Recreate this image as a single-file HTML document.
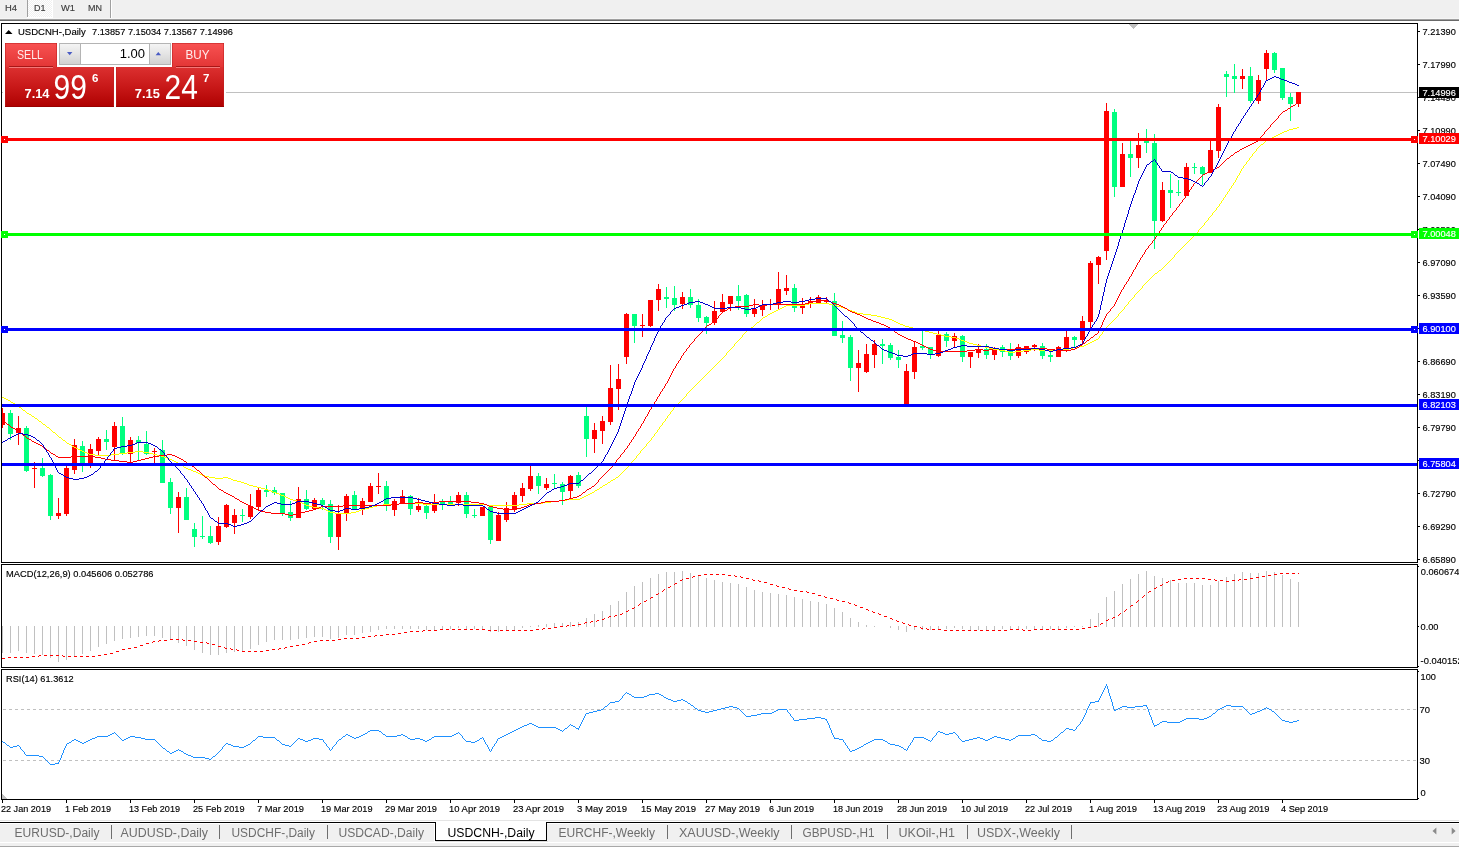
<!DOCTYPE html>
<html lang="en"><head><meta charset="utf-8"><title>USDCNH-,Daily</title>
<style>html,body{margin:0;padding:0;background:#fff;overflow:hidden}body{width:1459px;height:848px;position:relative}svg{position:absolute;left:0;top:0;display:block}text{font-family:"Liberation Sans",sans-serif;white-space:pre}.c{shape-rendering:crispEdges}</style></head><body>
<svg width="1459" height="848" viewBox="0 0 1459 848">
<defs><linearGradient id="gs" x1="0" y1="0" x2="0" y2="1"><stop offset="0" stop-color="#f85252"/><stop offset="1" stop-color="#e23434"/></linearGradient><linearGradient id="gp" x1="0" y1="0" x2="0" y2="1"><stop offset="0" stop-color="#dc3030"/><stop offset="0.5" stop-color="#c81818"/><stop offset="1" stop-color="#ae0000"/></linearGradient><linearGradient id="gb" x1="0" y1="0" x2="0" y2="1"><stop offset="0" stop-color="#f4f4f4"/><stop offset="0.5" stop-color="#e4e4e4"/><stop offset="1" stop-color="#d2d2d2"/></linearGradient><pattern id="chk" width="2" height="2" patternUnits="userSpaceOnUse"><rect width="2" height="2" fill="#f0f0f0"/><rect width="1" height="1" fill="#fff"/><rect x="1" y="1" width="1" height="1" fill="#fff"/></pattern></defs>
<g class="c">
<rect x="0" y="0" width="1459" height="848" fill="#fff"/>
<rect x="0" y="0" width="1459" height="18" fill="#f0f0f0"/>
<rect x="0" y="18" width="1459" height="1" fill="#f6f6f6"/>
<rect x="0" y="19" width="1459" height="1" fill="#a0a0a0"/>
<rect x="0" y="20" width="1459" height="1" fill="#696969"/>
<rect x="28" y="0" width="24" height="17" fill="url(#chk)"/>
<rect x="27" y="0" width="1" height="17" fill="#a0a0a0"/>
<rect x="52" y="0" width="1" height="18" fill="#fff"/>
<rect x="27" y="17" width="26" height="1" fill="#fff"/>
<rect x="110" y="0" width="1" height="18" fill="#a0a0a0"/>
<rect x="111" y="0" width="1" height="18" fill="#ffffff"/>
<rect x="1" y="23" width="1417" height="1" fill="#000"/>
<rect x="1" y="23" width="1" height="540" fill="#000"/>
<rect x="1" y="562" width="1417" height="1" fill="#000"/>
<rect x="1417" y="23" width="1" height="540" fill="#000"/>
<rect x="1" y="564" width="1417" height="1" fill="#000"/>
<rect x="1" y="564" width="1" height="104" fill="#000"/>
<rect x="1" y="667" width="1417" height="1" fill="#000"/>
<rect x="1417" y="564" width="1" height="104" fill="#000"/>
<rect x="1" y="669" width="1417" height="1" fill="#000"/>
<rect x="1" y="669" width="1" height="131" fill="#000"/>
<rect x="1" y="799" width="1417" height="1" fill="#000"/>
<rect x="1417" y="669" width="1" height="131" fill="#000"/>
<rect x="1418" y="31" width="2" height="1" fill="#000"/>
<rect x="1418" y="64" width="2" height="1" fill="#000"/>
<rect x="1418" y="97" width="2" height="1" fill="#000"/>
<rect x="1418" y="130" width="2" height="1" fill="#000"/>
<rect x="1418" y="163" width="2" height="1" fill="#000"/>
<rect x="1418" y="196" width="2" height="1" fill="#000"/>
<rect x="1418" y="229" width="2" height="1" fill="#000"/>
<rect x="1418" y="262" width="2" height="1" fill="#000"/>
<rect x="1418" y="295" width="2" height="1" fill="#000"/>
<rect x="1418" y="328" width="2" height="1" fill="#000"/>
<rect x="1418" y="361" width="2" height="1" fill="#000"/>
<rect x="1418" y="394" width="2" height="1" fill="#000"/>
<rect x="1418" y="427" width="2" height="1" fill="#000"/>
<rect x="1418" y="460" width="2" height="1" fill="#000"/>
<rect x="1418" y="493" width="2" height="1" fill="#000"/>
<rect x="1418" y="526" width="2" height="1" fill="#000"/>
<rect x="1418" y="559" width="2" height="1" fill="#000"/>
<rect x="1418" y="566" width="1" height="1" fill="#000"/>
<rect x="1418" y="626" width="1" height="1" fill="#000"/>
<rect x="1418" y="666" width="1" height="1" fill="#000"/>
<rect x="1418" y="671" width="1" height="1" fill="#000"/>
<rect x="1418" y="798" width="1" height="1" fill="#000"/>
<rect x="2" y="800" width="1" height="3" fill="#000"/>
<rect x="66" y="800" width="1" height="3" fill="#000"/>
<rect x="130" y="800" width="1" height="3" fill="#000"/>
<rect x="194" y="800" width="1" height="3" fill="#000"/>
<rect x="258" y="800" width="1" height="3" fill="#000"/>
<rect x="322" y="800" width="1" height="3" fill="#000"/>
<rect x="386" y="800" width="1" height="3" fill="#000"/>
<rect x="450" y="800" width="1" height="3" fill="#000"/>
<rect x="514" y="800" width="1" height="3" fill="#000"/>
<rect x="578" y="800" width="1" height="3" fill="#000"/>
<rect x="642" y="800" width="1" height="3" fill="#000"/>
<rect x="706" y="800" width="1" height="3" fill="#000"/>
<rect x="770" y="800" width="1" height="3" fill="#000"/>
<rect x="834" y="800" width="1" height="3" fill="#000"/>
<rect x="898" y="800" width="1" height="3" fill="#000"/>
<rect x="962" y="800" width="1" height="3" fill="#000"/>
<rect x="1026" y="800" width="1" height="3" fill="#000"/>
<rect x="1090" y="800" width="1" height="3" fill="#000"/>
<rect x="1154" y="800" width="1" height="3" fill="#000"/>
<rect x="1218" y="800" width="1" height="3" fill="#000"/>
<rect x="1282" y="800" width="1" height="3" fill="#000"/>
<polygon points="1128,24 1138,24 1133,29" fill="#c0c0c0"/>
<polygon points="2,794 2,799 7,799" fill="#c0c0c0"/>
<rect x="2" y="92" width="1415" height="1" fill="#c0c0c0"/>
<rect x="2" y="408" width="1" height="20" fill="#ff0000"/>
<rect x="2" y="413" width="3" height="12" fill="#ff0000"/>
<rect x="10" y="410" width="1" height="30" fill="#00ff7f"/>
<rect x="8" y="413" width="5" height="21" fill="#00ff7f"/>
<rect x="18" y="416" width="1" height="29" fill="#ff0000"/>
<rect x="16" y="428" width="5" height="5" fill="#ff0000"/>
<rect x="26" y="426" width="1" height="46" fill="#00ff7f"/>
<rect x="24" y="428" width="5" height="43" fill="#00ff7f"/>
<rect x="34" y="462" width="1" height="26" fill="#ff0000"/>
<rect x="32" y="468" width="5" height="1" fill="#ff0000"/>
<rect x="42" y="458" width="1" height="19" fill="#00ff7f"/>
<rect x="40" y="468" width="5" height="8" fill="#00ff7f"/>
<rect x="50" y="474" width="1" height="46" fill="#00ff7f"/>
<rect x="48" y="475" width="5" height="41" fill="#00ff7f"/>
<rect x="58" y="498" width="1" height="21" fill="#ff0000"/>
<rect x="56" y="513" width="5" height="3" fill="#ff0000"/>
<rect x="66" y="466" width="1" height="50" fill="#ff0000"/>
<rect x="64" y="468" width="5" height="46" fill="#ff0000"/>
<rect x="74" y="439" width="1" height="35" fill="#ff0000"/>
<rect x="72" y="445" width="5" height="25" fill="#ff0000"/>
<rect x="82" y="441" width="1" height="31" fill="#00ff7f"/>
<rect x="80" y="446" width="5" height="19" fill="#00ff7f"/>
<rect x="90" y="444" width="1" height="24" fill="#ff0000"/>
<rect x="88" y="449" width="5" height="16" fill="#ff0000"/>
<rect x="98" y="437" width="1" height="18" fill="#ff0000"/>
<rect x="96" y="439" width="5" height="12" fill="#ff0000"/>
<rect x="106" y="430" width="1" height="20" fill="#00ff7f"/>
<rect x="104" y="439" width="5" height="3" fill="#00ff7f"/>
<rect x="114" y="422" width="1" height="38" fill="#ff0000"/>
<rect x="112" y="426" width="5" height="21" fill="#ff0000"/>
<rect x="122" y="417" width="1" height="38" fill="#00ff7f"/>
<rect x="120" y="426" width="5" height="27" fill="#00ff7f"/>
<rect x="130" y="437" width="1" height="25" fill="#ff0000"/>
<rect x="128" y="440" width="5" height="14" fill="#ff0000"/>
<rect x="138" y="436" width="1" height="24" fill="#00ff7f"/>
<rect x="136" y="440" width="5" height="3" fill="#00ff7f"/>
<rect x="146" y="431" width="1" height="24" fill="#00ff7f"/>
<rect x="144" y="444" width="5" height="10" fill="#00ff7f"/>
<rect x="154" y="448" width="1" height="15" fill="#ff0000"/>
<rect x="152" y="451" width="5" height="1" fill="#ff0000"/>
<rect x="162" y="440" width="1" height="43" fill="#00ff7f"/>
<rect x="160" y="450" width="5" height="33" fill="#00ff7f"/>
<rect x="170" y="478" width="1" height="36" fill="#00ff7f"/>
<rect x="168" y="482" width="5" height="26" fill="#00ff7f"/>
<rect x="178" y="492" width="1" height="41" fill="#ff0000"/>
<rect x="176" y="497" width="5" height="11" fill="#ff0000"/>
<rect x="186" y="488" width="1" height="32" fill="#00ff7f"/>
<rect x="184" y="497" width="5" height="23" fill="#00ff7f"/>
<rect x="194" y="523" width="1" height="24" fill="#00ff7f"/>
<rect x="192" y="529" width="5" height="8" fill="#00ff7f"/>
<rect x="202" y="516" width="1" height="23" fill="#00ff7f"/>
<rect x="200" y="536" width="5" height="1" fill="#00ff7f"/>
<rect x="210" y="526" width="1" height="18" fill="#00ff7f"/>
<rect x="208" y="536" width="5" height="7" fill="#00ff7f"/>
<rect x="218" y="517" width="1" height="28" fill="#ff0000"/>
<rect x="216" y="526" width="5" height="16" fill="#ff0000"/>
<rect x="226" y="504" width="1" height="24" fill="#ff0000"/>
<rect x="224" y="505" width="5" height="22" fill="#ff0000"/>
<rect x="234" y="509" width="1" height="25" fill="#ff0000"/>
<rect x="232" y="515" width="5" height="8" fill="#ff0000"/>
<rect x="242" y="509" width="1" height="13" fill="#00ff7f"/>
<rect x="240" y="515" width="5" height="1" fill="#00ff7f"/>
<rect x="250" y="494" width="1" height="25" fill="#ff0000"/>
<rect x="248" y="506" width="5" height="11" fill="#ff0000"/>
<rect x="258" y="488" width="1" height="22" fill="#ff0000"/>
<rect x="256" y="490" width="5" height="17" fill="#ff0000"/>
<rect x="266" y="485" width="1" height="12" fill="#00ff7f"/>
<rect x="264" y="490" width="5" height="2" fill="#00ff7f"/>
<rect x="274" y="487" width="1" height="8" fill="#00ff7f"/>
<rect x="272" y="490" width="5" height="3" fill="#00ff7f"/>
<rect x="282" y="493" width="1" height="23" fill="#00ff7f"/>
<rect x="280" y="493" width="5" height="21" fill="#00ff7f"/>
<rect x="290" y="501" width="1" height="20" fill="#00ff7f"/>
<rect x="288" y="512" width="5" height="6" fill="#00ff7f"/>
<rect x="298" y="487" width="1" height="31" fill="#ff0000"/>
<rect x="296" y="499" width="5" height="19" fill="#ff0000"/>
<rect x="306" y="490" width="1" height="20" fill="#00ff7f"/>
<rect x="304" y="499" width="5" height="10" fill="#00ff7f"/>
<rect x="314" y="498" width="1" height="12" fill="#ff0000"/>
<rect x="312" y="500" width="5" height="9" fill="#ff0000"/>
<rect x="322" y="498" width="1" height="12" fill="#00ff7f"/>
<rect x="320" y="500" width="5" height="5" fill="#00ff7f"/>
<rect x="330" y="500" width="1" height="43" fill="#00ff7f"/>
<rect x="328" y="504" width="5" height="33" fill="#00ff7f"/>
<rect x="338" y="505" width="1" height="45" fill="#ff0000"/>
<rect x="336" y="514" width="5" height="23" fill="#ff0000"/>
<rect x="346" y="494" width="1" height="27" fill="#ff0000"/>
<rect x="344" y="496" width="5" height="18" fill="#ff0000"/>
<rect x="354" y="491" width="1" height="19" fill="#00ff7f"/>
<rect x="352" y="495" width="5" height="15" fill="#00ff7f"/>
<rect x="362" y="498" width="1" height="17" fill="#ff0000"/>
<rect x="360" y="501" width="5" height="8" fill="#ff0000"/>
<rect x="370" y="483" width="1" height="19" fill="#ff0000"/>
<rect x="368" y="486" width="5" height="16" fill="#ff0000"/>
<rect x="378" y="473" width="1" height="21" fill="#ff0000"/>
<rect x="376" y="486" width="5" height="1" fill="#ff0000"/>
<rect x="386" y="481" width="1" height="30" fill="#00ff7f"/>
<rect x="384" y="486" width="5" height="19" fill="#00ff7f"/>
<rect x="394" y="499" width="1" height="17" fill="#ff0000"/>
<rect x="392" y="501" width="5" height="9" fill="#ff0000"/>
<rect x="402" y="490" width="1" height="13" fill="#ff0000"/>
<rect x="400" y="496" width="5" height="7" fill="#ff0000"/>
<rect x="410" y="495" width="1" height="20" fill="#00ff7f"/>
<rect x="408" y="496" width="5" height="13" fill="#00ff7f"/>
<rect x="418" y="498" width="1" height="14" fill="#ff0000"/>
<rect x="416" y="506" width="5" height="4" fill="#ff0000"/>
<rect x="426" y="505" width="1" height="14" fill="#00ff7f"/>
<rect x="424" y="506" width="5" height="7" fill="#00ff7f"/>
<rect x="434" y="494" width="1" height="19" fill="#ff0000"/>
<rect x="432" y="502" width="5" height="9" fill="#ff0000"/>
<rect x="442" y="499" width="1" height="11" fill="#00ff7f"/>
<rect x="440" y="502" width="5" height="3" fill="#00ff7f"/>
<rect x="450" y="496" width="1" height="9" fill="#00ff7f"/>
<rect x="448" y="502" width="5" height="2" fill="#00ff7f"/>
<rect x="458" y="492" width="1" height="14" fill="#ff0000"/>
<rect x="456" y="495" width="5" height="8" fill="#ff0000"/>
<rect x="466" y="492" width="1" height="26" fill="#00ff7f"/>
<rect x="464" y="495" width="5" height="19" fill="#00ff7f"/>
<rect x="474" y="509" width="1" height="9" fill="#00ff7f"/>
<rect x="472" y="515" width="5" height="1" fill="#00ff7f"/>
<rect x="482" y="507" width="1" height="9" fill="#ff0000"/>
<rect x="480" y="507" width="5" height="9" fill="#ff0000"/>
<rect x="490" y="507" width="1" height="37" fill="#00ff7f"/>
<rect x="488" y="507" width="5" height="33" fill="#00ff7f"/>
<rect x="498" y="512" width="1" height="29" fill="#ff0000"/>
<rect x="496" y="515" width="5" height="26" fill="#ff0000"/>
<rect x="506" y="502" width="1" height="20" fill="#ff0000"/>
<rect x="504" y="508" width="5" height="12" fill="#ff0000"/>
<rect x="514" y="492" width="1" height="20" fill="#ff0000"/>
<rect x="512" y="495" width="5" height="14" fill="#ff0000"/>
<rect x="522" y="483" width="1" height="19" fill="#ff0000"/>
<rect x="520" y="488" width="5" height="8" fill="#ff0000"/>
<rect x="530" y="466" width="1" height="25" fill="#ff0000"/>
<rect x="528" y="476" width="5" height="13" fill="#ff0000"/>
<rect x="538" y="473" width="1" height="21" fill="#00ff7f"/>
<rect x="536" y="476" width="5" height="10" fill="#00ff7f"/>
<rect x="546" y="478" width="1" height="12" fill="#ff0000"/>
<rect x="544" y="484" width="5" height="4" fill="#ff0000"/>
<rect x="554" y="474" width="1" height="14" fill="#00ff7f"/>
<rect x="552" y="483" width="5" height="1" fill="#00ff7f"/>
<rect x="562" y="482" width="1" height="23" fill="#00ff7f"/>
<rect x="560" y="484" width="5" height="8" fill="#00ff7f"/>
<rect x="570" y="475" width="1" height="23" fill="#ff0000"/>
<rect x="568" y="476" width="5" height="15" fill="#ff0000"/>
<rect x="578" y="472" width="1" height="16" fill="#00ff7f"/>
<rect x="576" y="475" width="5" height="11" fill="#00ff7f"/>
<rect x="586" y="407" width="1" height="50" fill="#00ff7f"/>
<rect x="584" y="416" width="5" height="23" fill="#00ff7f"/>
<rect x="594" y="423" width="1" height="30" fill="#ff0000"/>
<rect x="592" y="430" width="5" height="9" fill="#ff0000"/>
<rect x="602" y="416" width="1" height="28" fill="#ff0000"/>
<rect x="600" y="421" width="5" height="10" fill="#ff0000"/>
<rect x="610" y="365" width="1" height="60" fill="#ff0000"/>
<rect x="608" y="388" width="5" height="34" fill="#ff0000"/>
<rect x="618" y="364" width="1" height="46" fill="#ff0000"/>
<rect x="616" y="379" width="5" height="10" fill="#ff0000"/>
<rect x="626" y="313" width="1" height="51" fill="#ff0000"/>
<rect x="624" y="314" width="5" height="43" fill="#ff0000"/>
<rect x="634" y="314" width="1" height="29" fill="#00ff7f"/>
<rect x="632" y="314" width="5" height="12" fill="#00ff7f"/>
<rect x="642" y="314" width="1" height="23" fill="#ff0000"/>
<rect x="640" y="325" width="5" height="1" fill="#ff0000"/>
<rect x="650" y="300" width="1" height="27" fill="#ff0000"/>
<rect x="648" y="300" width="5" height="26" fill="#ff0000"/>
<rect x="658" y="284" width="1" height="27" fill="#ff0000"/>
<rect x="656" y="289" width="5" height="11" fill="#ff0000"/>
<rect x="666" y="287" width="1" height="21" fill="#00ff7f"/>
<rect x="664" y="297" width="5" height="2" fill="#00ff7f"/>
<rect x="674" y="286" width="1" height="25" fill="#00ff7f"/>
<rect x="672" y="298" width="5" height="7" fill="#00ff7f"/>
<rect x="682" y="292" width="1" height="17" fill="#ff0000"/>
<rect x="680" y="297" width="5" height="7" fill="#ff0000"/>
<rect x="690" y="289" width="1" height="19" fill="#00ff7f"/>
<rect x="688" y="297" width="5" height="8" fill="#00ff7f"/>
<rect x="698" y="299" width="1" height="23" fill="#00ff7f"/>
<rect x="696" y="305" width="5" height="13" fill="#00ff7f"/>
<rect x="706" y="316" width="1" height="18" fill="#00ff7f"/>
<rect x="704" y="317" width="5" height="6" fill="#00ff7f"/>
<rect x="714" y="301" width="1" height="24" fill="#ff0000"/>
<rect x="712" y="311" width="5" height="12" fill="#ff0000"/>
<rect x="722" y="294" width="1" height="18" fill="#ff0000"/>
<rect x="720" y="302" width="5" height="10" fill="#ff0000"/>
<rect x="730" y="296" width="1" height="15" fill="#ff0000"/>
<rect x="728" y="296" width="5" height="8" fill="#ff0000"/>
<rect x="738" y="285" width="1" height="25" fill="#00ff7f"/>
<rect x="736" y="296" width="5" height="5" fill="#00ff7f"/>
<rect x="746" y="294" width="1" height="23" fill="#00ff7f"/>
<rect x="744" y="295" width="5" height="19" fill="#00ff7f"/>
<rect x="754" y="299" width="1" height="18" fill="#ff0000"/>
<rect x="752" y="309" width="5" height="5" fill="#ff0000"/>
<rect x="762" y="300" width="1" height="16" fill="#ff0000"/>
<rect x="760" y="305" width="5" height="5" fill="#ff0000"/>
<rect x="770" y="299" width="1" height="11" fill="#ff0000"/>
<rect x="768" y="304" width="5" height="1" fill="#ff0000"/>
<rect x="778" y="272" width="1" height="38" fill="#ff0000"/>
<rect x="776" y="289" width="5" height="15" fill="#ff0000"/>
<rect x="786" y="275" width="1" height="20" fill="#ff0000"/>
<rect x="784" y="288" width="5" height="3" fill="#ff0000"/>
<rect x="794" y="284" width="1" height="28" fill="#00ff7f"/>
<rect x="792" y="288" width="5" height="20" fill="#00ff7f"/>
<rect x="802" y="298" width="1" height="16" fill="#ff0000"/>
<rect x="800" y="305" width="5" height="3" fill="#ff0000"/>
<rect x="810" y="297" width="1" height="11" fill="#ff0000"/>
<rect x="808" y="301" width="5" height="3" fill="#ff0000"/>
<rect x="818" y="295" width="1" height="8" fill="#ff0000"/>
<rect x="816" y="297" width="5" height="6" fill="#ff0000"/>
<rect x="826" y="297" width="1" height="6" fill="#ff0000"/>
<rect x="824" y="301" width="5" height="1" fill="#ff0000"/>
<rect x="834" y="293" width="1" height="43" fill="#00ff7f"/>
<rect x="832" y="301" width="5" height="35" fill="#00ff7f"/>
<rect x="842" y="321" width="1" height="22" fill="#00ff7f"/>
<rect x="840" y="335" width="5" height="3" fill="#00ff7f"/>
<rect x="850" y="335" width="1" height="46" fill="#00ff7f"/>
<rect x="848" y="337" width="5" height="31" fill="#00ff7f"/>
<rect x="858" y="350" width="1" height="42" fill="#ff0000"/>
<rect x="856" y="363" width="5" height="5" fill="#ff0000"/>
<rect x="866" y="344" width="1" height="29" fill="#ff0000"/>
<rect x="864" y="354" width="5" height="18" fill="#ff0000"/>
<rect x="874" y="340" width="1" height="28" fill="#ff0000"/>
<rect x="872" y="344" width="5" height="11" fill="#ff0000"/>
<rect x="882" y="339" width="1" height="25" fill="#00ff7f"/>
<rect x="880" y="344" width="5" height="2" fill="#00ff7f"/>
<rect x="890" y="343" width="1" height="17" fill="#00ff7f"/>
<rect x="888" y="345" width="5" height="13" fill="#00ff7f"/>
<rect x="898" y="350" width="1" height="18" fill="#00ff7f"/>
<rect x="896" y="357" width="5" height="3" fill="#00ff7f"/>
<rect x="906" y="364" width="1" height="41" fill="#ff0000"/>
<rect x="904" y="371" width="5" height="33" fill="#ff0000"/>
<rect x="914" y="341" width="1" height="38" fill="#ff0000"/>
<rect x="912" y="347" width="5" height="25" fill="#ff0000"/>
<rect x="922" y="331" width="1" height="19" fill="#00ff7f"/>
<rect x="920" y="346" width="5" height="2" fill="#00ff7f"/>
<rect x="930" y="347" width="1" height="12" fill="#00ff7f"/>
<rect x="928" y="347" width="5" height="8" fill="#00ff7f"/>
<rect x="938" y="331" width="1" height="26" fill="#ff0000"/>
<rect x="936" y="335" width="5" height="21" fill="#ff0000"/>
<rect x="946" y="332" width="1" height="15" fill="#00ff7f"/>
<rect x="944" y="334" width="5" height="7" fill="#00ff7f"/>
<rect x="954" y="333" width="1" height="14" fill="#ff0000"/>
<rect x="952" y="336" width="5" height="5" fill="#ff0000"/>
<rect x="962" y="335" width="1" height="27" fill="#00ff7f"/>
<rect x="960" y="336" width="5" height="21" fill="#00ff7f"/>
<rect x="970" y="352" width="1" height="16" fill="#ff0000"/>
<rect x="968" y="352" width="5" height="5" fill="#ff0000"/>
<rect x="978" y="344" width="1" height="14" fill="#ff0000"/>
<rect x="976" y="349" width="5" height="4" fill="#ff0000"/>
<rect x="986" y="344" width="1" height="15" fill="#00ff7f"/>
<rect x="984" y="349" width="5" height="6" fill="#00ff7f"/>
<rect x="994" y="347" width="1" height="13" fill="#ff0000"/>
<rect x="992" y="348" width="5" height="7" fill="#ff0000"/>
<rect x="1002" y="345" width="1" height="12" fill="#00ff7f"/>
<rect x="1000" y="347" width="5" height="5" fill="#00ff7f"/>
<rect x="1010" y="343" width="1" height="17" fill="#00ff7f"/>
<rect x="1008" y="351" width="5" height="5" fill="#00ff7f"/>
<rect x="1018" y="344" width="1" height="14" fill="#ff0000"/>
<rect x="1016" y="347" width="5" height="9" fill="#ff0000"/>
<rect x="1026" y="346" width="1" height="8" fill="#ff0000"/>
<rect x="1024" y="346" width="5" height="6" fill="#ff0000"/>
<rect x="1034" y="344" width="1" height="7" fill="#ff0000"/>
<rect x="1032" y="345" width="5" height="2" fill="#ff0000"/>
<rect x="1042" y="343" width="1" height="16" fill="#00ff7f"/>
<rect x="1040" y="346" width="5" height="10" fill="#00ff7f"/>
<rect x="1050" y="351" width="1" height="11" fill="#00ff7f"/>
<rect x="1048" y="355" width="5" height="2" fill="#00ff7f"/>
<rect x="1058" y="346" width="1" height="11" fill="#ff0000"/>
<rect x="1056" y="347" width="5" height="10" fill="#ff0000"/>
<rect x="1066" y="331" width="1" height="21" fill="#ff0000"/>
<rect x="1064" y="337" width="5" height="12" fill="#ff0000"/>
<rect x="1074" y="336" width="1" height="11" fill="#00ff7f"/>
<rect x="1072" y="337" width="5" height="3" fill="#00ff7f"/>
<rect x="1082" y="316" width="1" height="27" fill="#ff0000"/>
<rect x="1080" y="321" width="5" height="19" fill="#ff0000"/>
<rect x="1090" y="261" width="1" height="67" fill="#ff0000"/>
<rect x="1088" y="263" width="5" height="59" fill="#ff0000"/>
<rect x="1098" y="256" width="1" height="28" fill="#ff0000"/>
<rect x="1096" y="257" width="5" height="8" fill="#ff0000"/>
<rect x="1106" y="103" width="1" height="157" fill="#ff0000"/>
<rect x="1104" y="111" width="5" height="140" fill="#ff0000"/>
<rect x="1114" y="109" width="1" height="88" fill="#00ff7f"/>
<rect x="1112" y="112" width="5" height="75" fill="#00ff7f"/>
<rect x="1122" y="143" width="1" height="44" fill="#ff0000"/>
<rect x="1120" y="154" width="5" height="33" fill="#ff0000"/>
<rect x="1130" y="141" width="1" height="36" fill="#00ff7f"/>
<rect x="1128" y="154" width="5" height="4" fill="#00ff7f"/>
<rect x="1138" y="133" width="1" height="35" fill="#ff0000"/>
<rect x="1136" y="145" width="5" height="13" fill="#ff0000"/>
<rect x="1146" y="129" width="1" height="24" fill="#00ff7f"/>
<rect x="1144" y="140" width="5" height="3" fill="#00ff7f"/>
<rect x="1154" y="134" width="1" height="115" fill="#00ff7f"/>
<rect x="1152" y="143" width="5" height="78" fill="#00ff7f"/>
<rect x="1162" y="182" width="1" height="40" fill="#ff0000"/>
<rect x="1160" y="190" width="5" height="31" fill="#ff0000"/>
<rect x="1170" y="174" width="1" height="34" fill="#00ff7f"/>
<rect x="1168" y="190" width="5" height="3" fill="#00ff7f"/>
<rect x="1178" y="180" width="1" height="16" fill="#00ff7f"/>
<rect x="1176" y="192" width="5" height="1" fill="#00ff7f"/>
<rect x="1186" y="163" width="1" height="33" fill="#ff0000"/>
<rect x="1184" y="167" width="5" height="29" fill="#ff0000"/>
<rect x="1194" y="163" width="1" height="11" fill="#00ff7f"/>
<rect x="1192" y="167" width="5" height="1" fill="#00ff7f"/>
<rect x="1202" y="166" width="1" height="19" fill="#00ff7f"/>
<rect x="1200" y="167" width="5" height="7" fill="#00ff7f"/>
<rect x="1210" y="141" width="1" height="32" fill="#ff0000"/>
<rect x="1208" y="150" width="5" height="23" fill="#ff0000"/>
<rect x="1218" y="104" width="1" height="54" fill="#ff0000"/>
<rect x="1216" y="107" width="5" height="44" fill="#ff0000"/>
<rect x="1226" y="71" width="1" height="26" fill="#00ff7f"/>
<rect x="1224" y="74" width="5" height="3" fill="#00ff7f"/>
<rect x="1234" y="64" width="1" height="29" fill="#00ff7f"/>
<rect x="1232" y="76" width="5" height="3" fill="#00ff7f"/>
<rect x="1242" y="69" width="1" height="20" fill="#ff0000"/>
<rect x="1240" y="76" width="5" height="3" fill="#ff0000"/>
<rect x="1250" y="67" width="1" height="36" fill="#00ff7f"/>
<rect x="1248" y="76" width="5" height="25" fill="#00ff7f"/>
<rect x="1258" y="75" width="1" height="29" fill="#ff0000"/>
<rect x="1256" y="80" width="5" height="21" fill="#ff0000"/>
<rect x="1266" y="50" width="1" height="31" fill="#ff0000"/>
<rect x="1264" y="53" width="5" height="16" fill="#ff0000"/>
<rect x="1274" y="52" width="1" height="21" fill="#00ff7f"/>
<rect x="1272" y="53" width="5" height="17" fill="#00ff7f"/>
<rect x="1282" y="68" width="1" height="32" fill="#00ff7f"/>
<rect x="1280" y="68" width="5" height="30" fill="#00ff7f"/>
<rect x="1290" y="93" width="1" height="28" fill="#00ff7f"/>
<rect x="1288" y="97" width="5" height="7" fill="#00ff7f"/>
<rect x="1298" y="92" width="1" height="15" fill="#ff0000"/>
<rect x="1296" y="92" width="5" height="12" fill="#ff0000"/>
</g>
<path class="c" d="M0 .5m1297 127h2m-6 1h4m-8 1h4m-6 1h2m-5 1h3m-5 1h2m-4 1h2m-4 1h2m-4 1h2m-4 1h2m-4 1h2m-4 1h2m-4 1h2m-4 1h2m-3 1h1m-2 1h1m-2 1h1m-3 1h2m-3 1h1m-2 1h1m-2 1h1m-2 1h1m-2 1h1m-1 1h1m-2 1h1m-2 1h1m-2 1h1m-2 1h1m-1 1h1m-2 1h1m-2 1h1m-2 1h1m-1 1h1m-2 1h1m-2 1h1m-2 1h1m-1 1h1m-2 1h1m-2 1h1m-2 1h1m-1 1h1m-2 1h1m-2 1h1m-1 1h1m-2 1h1m-1 1h1m-2 1h1m-1 1h1m-2 1h1m-2 1h1m-1 1h1m-2 1h1m-1 1h1m-2 1h1m-1 1h1m-2 1h1m-2 1h1m-1 1h1m-2 1h1m-2 1h1m-1 1h1m-2 1h1m-2 1h1m-1 1h1m-2 1h1m-2 1h1m-1 1h1m-2 1h1m-2 1h1m-1 1h1m-2 1h1m-2 1h1m-1 1h1m-2 1h1m-2 1h1m-1 1h1m-2 1h1m-2 1h1m-1 1h1m-2 1h1m-2 1h1m-2 1h1m-1 1h1m-2 1h1m-2 1h1m-2 1h1m-2 1h1m-1 1h1m-2 1h1m-2 1h1m-2 1h1m-2 1h1m-1 1h1m-2 1h1m-2 1h1m-2 1h1m-2 1h1m-1 1h1m-2 1h1m-2 1h1m-2 1h1m-2 1h1m-2 1h1m-2 1h1m-1 1h1m-2 1h1m-2 1h1m-2 1h1m-2 1h1m-2 1h1m-2 1h1m-2 1h1m-2 1h1m-2 1h1m-2 1h1m-2 1h1m-2 1h1m-2 1h1m-2 1h1m-2 1h1m-2 1h1m-2 1h1m-2 1h1m-2 1h1m-2 1h1m-2 1h1m-2 1h1m-2 1h1m-2 1h1m-1 1h1m-2 1h1m-2 1h1m-2 1h1m-2 1h1m-2 1h1m-2 1h1m-2 1h1m-2 1h1m-2 1h1m-2 1h1m-2 1h1m-2 1h1m-2 1h1m-3 1h2m-3 1h1m-2 1h1m-3 1h2m-3 1h1m-2 1h1m-2 1h1m-2 1h1m-2 1h1m-2 1h1m-2 1h1m-2 1h1m-2 1h1m-2 1h1m-2 1h1m-2 1h1m-2 1h1m-1 1h1m-2 1h1m-2 1h1m-2 1h1m-2 1h1m-2 1h1m-2 1h1m-2 1h1m-2 1h1m-1 1h1m-2 1h1m-2 1h1m-2 1h1m-2 1h1m-2 1h1m-2 1h1m-320 1h20m299 0h1m-324 1h4m20 0h4m294 0h1m-342 1h19m28 0h4m289 0h1m-343 1h2m51 0h4m284 0h1m-344 1h2m57 0h3m280 0h1m-345 1h2m62 0h3m277 0h1m-347 1h2m67 0h2m274 0h1m-348 1h2m71 0h3m270 0h1m-349 1h2m76 0h3m266 0h1m-350 1h2m81 0h2m263 0h1m-351 1h2m85 0h6m256 0h1m-352 1h2m93 0h8m247 0h1m-352 1h1m103 0h6m241 0h1m-354 1h2m110 0h4m236 0h1m-355 1h2m116 0h4m231 0h1m-355 1h1m122 0h4m226 0h1m-355 1h1m127 0h3m222 0h1m-355 1h1m131 0h2m219 0h1m-355 1h1m134 0h2m216 0h1m-356 1h2m137 0h2m213 0h1m-356 1h1m141 0h2m210 0h1m-356 1h1m144 0h3m206 0h1m-356 1h1m148 0h2m203 0h1m-356 1h1m151 0h4m198 0h1m-357 1h2m156 0h4m193 0h1m-357 1h1m162 0h4m188 0h1m-357 1h1m167 0h4m184 0h1m-359 1h2m172 0h4m179 0h1m-359 1h1m178 0h4m174 0h1m-359 1h1m183 0h4m169 0h1m-359 1h1m188 0h4m165 0h1m-360 1h1m193 0h4m160 0h1m-360 1h1m198 0h4m155 0h1m-359 1h1m202 0h6m148 0h1m-359 1h1m209 0h5m143 0h1m-360 1h1m215 0h3m139 0h1m-360 1h1m219 0h2m135 0h2m-360 1h1m222 0h3m130 0h2m-359 1h1m226 0h3m125 0h2m-358 1h1m230 0h2m121 0h2m-357 1h1m233 0h4m115 0h2m-356 1h1m238 0h4m109 0h2m-354 1h1m242 0h4m103 0h2m-353 1h1m247 0h4m94 0h5m-352 1h1m252 0h4m84 0h6m-348 1h1m257 0h4m76 0h4m-343 1h1m262 0h6m32 0h8m24 0h6m-340 1h1m269 0h6m18 0h8m8 0h24m-335 1h1m276 0h4m6 0h8m-296 1h1m281 0h6m-289 1h1m-1 1h1m-2 1h1m-2 1h1m-2 1h1m-2 1h1m-2 1h1m-2 1h1m-2 1h1m-2 1h1m-2 1h1m-2 1h1m-2 1h1m-2 1h1m-2 1h1m-2 1h1m-2 1h1m-2 1h1m-2 1h1m-2 1h1m-2 1h1m-2 1h1m-2 1h1m-2 1h1m-2 1h1m-2 1h1m-2 1h1m-2 1h1m-2 1h1m-2 1h1m-2 1h1m-2 1h1m-2 1h1m-2 1h1m-2 1h1m-2 1h1m-2 1h1m-2 1h1m-2 1h1m-2 1h1m-2 1h1m-2 1h1m-1 1h1m-2 1h1m-684 1h2m680 0h1m-681 1h2m677 0h1m-678 1h2m674 0h1m-675 1h2m671 0h1m-672 1h1m669 0h1m-670 1h2m666 0h1m-667 1h2m663 0h1m-664 1h1m661 0h1m-662 1h2m658 0h1m-659 1h1m656 0h1m-657 1h2m653 0h1m-654 1h1m651 0h1m-652 1h1m650 0h1m-651 1h2m647 0h1m-648 1h1m645 0h1m-646 1h1m643 0h1m-644 1h2m641 0h1m-642 1h2m638 0h1m-639 1h1m636 0h1m-637 1h2m633 0h1m-634 1h1m632 0h1m-633 1h2m629 0h1m-630 1h1m627 0h1m-628 1h1m626 0h1m-627 1h2m623 0h1m-624 1h1m621 0h1m-622 1h1m619 0h1m-620 1h2m617 0h1m-618 1h1m615 0h1m-616 1h1m613 0h1m-614 1h2m610 0h1m-611 1h1m609 0h1m-610 1h1m607 0h1m-608 1h1m605 0h1m-606 1h1m604 0h1m-605 1h2m601 0h1m-602 1h1m599 0h1m-600 1h1m597 0h1m-598 1h1m596 0h1m-597 1h1m594 0h1m-595 1h2m591 0h1m-592 1h1m589 0h1m-590 1h1m588 0h1m-589 1h2m585 0h1m-586 1h1m583 0h1m-584 1h1m581 0h1m-582 1h2m578 0h1m-579 1h2m575 0h1m-576 1h1m574 0h1m-575 1h2m571 0h1m-572 1h2m568 0h1m-569 1h2m565 0h1m-566 1h2m562 0h1m-563 1h2m559 0h1m-560 1h2m51 0h8m497 0h1m-557 1h3m40 0h8m8 0h6m491 0h1m-554 1h2m30 0h8m22 0h4m486 0h1m-551 1h6m16 0h8m34 0h4m481 0h1m-544 1h16m46 0h4m476 0h1m-477 1h3m472 0h1m-473 1h3m469 0h1m-470 1h2m466 0h1m-467 1h3m462 0h1m-463 1h2m459 0h1m-460 1h2m456 0h1m-457 1h2m453 0h1m-454 1h1m451 0h1m-452 1h2m449 0h1m-450 1h2m446 0h1m-447 1h1m444 0h1m-445 1h2m441 0h1m-442 1h2m438 0h1m-439 1h3m434 0h1m-435 1h2m431 0h1m-432 1h3m427 0h1m-428 1h2m424 0h1m-425 1h2m421 0h1m-422 1h2m418 0h1m-419 1h3m414 0h1m-415 1h4m409 0h1m-410 1h6m8 0h5m388 0h2m-403 1h8m5 0h3m384 0h1m-385 1h2m380 0h2m-382 1h4m374 0h2m-376 1h4m369 0h1m-370 1h3m364 0h2m-366 1h3m360 0h1m-361 1h2m356 0h2m-358 1h4m350 0h2m-352 1h4m345 0h1m-346 1h4m339 0h2m-341 1h4m334 0h1m-335 1h3m329 0h2m-331 1h3m324 0h2m-326 1h2m321 0h1m-322 1h3m316 0h2m-318 1h3m311 0h2m-313 1h2m307 0h2m-309 1h3m302 0h2m-304 1h2m298 0h2m-300 1h2m294 0h2m-296 1h2m290 0h2m-292 1h3m274 0h13m-287 1h4m262 0h8m-270 1h3m251 0h8m-259 1h2m241 0h8m-249 1h2m95 0h24m104 0h16m-239 1h2m77 0h16m24 0h64m32 0h8m-221 1h3m68 0h6m104 0h32m-210 1h4m60 0h4m-64 1h6m50 0h4m-54 1h5m41 0h4m-45 1h2m35 0h4m-39 1h2m31 0h2m-33 1h2m26 0h3m-29 1h5m16 0h5m-21 1h16" fill="none" stroke="#ffff00" stroke-width="1"/>
<path class="c" d="M0 .5m1298 102h1m-3 1h2m-3 1h1m-3 1h2m-4 1h2m-3 1h1m-3 1h2m-3 1h1m-3 1h2m-4 1h2m-3 1h1m-2 1h1m-2 1h1m-2 1h1m-2 1h1m-1 1h1m-2 1h1m-2 1h1m-2 1h1m-2 1h1m-2 1h1m-2 1h1m-2 1h1m-2 1h1m-1 1h1m-2 1h1m-2 1h1m-2 1h1m-2 1h1m-2 1h1m-2 1h1m-1 1h1m-2 1h1m-2 1h1m-2 1h1m-2 1h1m-1 1h1m-2 1h1m-2 1h1m-3 1h2m-4 1h2m-4 1h2m-4 1h2m-4 1h2m-4 1h2m-4 1h2m-4 1h2m-4 1h2m-3 1h1m-3 1h2m-4 1h2m-3 1h1m-2 1h1m-3 1h2m-3 1h1m-2 1h1m-3 1h2m-3 1h1m-2 1h1m-2 1h1m-2 1h1m-2 1h1m-2 1h1m-2 1h1m-2 1h1m-3 1h2m-4 1h2m-5 1h3m-5 1h2m-4 1h2m-3 1h1m-3 1h2m-4 1h2m-3 1h1m-2 1h1m-2 1h1m-2 1h1m-2 1h1m-2 1h1m-2 1h1m-2 1h1m-2 1h1m-2 1h1m-1 1h1m-2 1h1m-2 1h1m-1 1h1m-2 1h1m-2 1h1m-1 1h1m-2 1h1m-2 1h1m-1 1h1m-2 1h1m-2 1h1m-1 1h1m-2 1h1m-2 1h1m-2 1h1m-1 1h1m-2 1h1m-2 1h1m-2 1h1m-1 1h1m-2 1h1m-2 1h1m-2 1h1m-1 1h1m-2 1h1m-2 1h1m-2 1h1m-2 1h1m-1 1h1m-2 1h1m-2 1h1m-2 1h1m-1 1h1m-2 1h1m-2 1h1m-2 1h1m-1 1h1m-2 1h1m-2 1h1m-2 1h1m-1 1h1m-2 1h1m-2 1h1m-1 1h1m-2 1h1m-2 1h1m-1 1h1m-2 1h1m-2 1h1m-1 1h1m-2 1h1m-2 1h1m-1 1h1m-2 1h1m-2 1h1m-2 1h1m-1 1h1m-2 1h1m-2 1h1m-2 1h1m-2 1h1m-1 1h1m-2 1h1m-2 1h1m-2 1h1m-1 1h1m-2 1h1m-1 1h1m-2 1h1m-2 1h1m-1 1h1m-2 1h1m-2 1h1m-1 1h1m-2 1h1m-1 1h1m-2 1h1m-2 1h1m-1 1h1m-2 1h1m-1 1h1m-2 1h1m-1 1h1m-2 1h1m-2 1h1m-1 1h1m-2 1h1m-1 1h1m-2 1h1m-1 1h1m-2 1h1m-2 1h1m-1 1h1m-2 1h1m-1 1h1m-2 1h1m-2 1h1m-1 1h1m-2 1h1m-2 1h1m-1 1h1m-2 1h1m-1 1h1m-2 1h1m-2 1h1m-1 1h1m-2 1h1m-1 1h1m-2 1h1m-1 1h1m-2 1h1m-1 1h1m-2 1h1m-1 1h1m-301 1h11m288 0h1m-304 1h4m11 0h3m285 0h1m-308 1h4m18 0h2m282 0h1m-311 1h4m24 0h3m279 0h1m-363 1h6m8 0h38m31 0h3m275 0h1m-366 1h4m6 0h8m72 0h2m273 0h1m-380 1h14m92 0h2m270 0h1m-384 1h5m108 0h2m267 0h1m-385 1h2m115 0h2m264 0h1m-385 1h1m119 0h1m262 0h1m-386 1h2m121 0h2m260 0h1m-388 1h2m125 0h2m257 0h1m-388 1h1m129 0h3m253 0h1m-388 1h1m133 0h2m250 0h1m-388 1h1m136 0h3m246 0h1m-388 1h1m140 0h2m244 0h1m-389 1h1m143 0h2m241 0h1m-388 1h1m145 0h2m239 0h1m-389 1h1m148 0h2m236 0h1m-389 1h1m151 0h3m233 0h1m-390 1h1m155 0h2m230 0h1m-390 1h1m158 0h3m227 0h1m-392 1h2m162 0h3m223 0h1m-392 1h1m167 0h2m221 0h1m-394 1h2m170 0h3m218 0h1m-396 1h2m175 0h2m215 0h1m-396 1h1m179 0h2m213 0h1m-397 1h1m182 0h2m210 0h1m-397 1h1m185 0h1m209 0h1m-398 1h1m187 0h2m206 0h1m-398 1h1m190 0h1m205 0h1m-398 1h1m191 0h1m203 0h1m-398 1h1m193 0h2m201 0h1m-399 1h1m196 0h1m199 0h1m-399 1h1m198 0h2m195 0h2m-399 1h1m201 0h2m192 0h1m-398 1h1m204 0h2m189 0h1m-398 1h1m207 0h2m185 0h2m-398 1h1m210 0h2m182 0h1m-397 1h1m213 0h3m178 0h1m-396 1h1m216 0h2m174 0h2m-396 1h1m219 0h3m170 0h1m-395 1h1m223 0h2m167 0h1m-395 1h1m226 0h2m163 0h2m-395 1h1m229 0h2m160 0h1m-394 1h1m232 0h2m156 0h2m-393 1h1m234 0h2m153 0h1m-392 1h1m237 0h2m149 0h2m-392 1h1m240 0h2m63 0h6m16 0h32m28 0h2m-391 1h1m243 0h3m42 0h8m6 0h4m6 0h16m32 0h8m16 0h4m-389 1h1m246 0h4m30 0h8m8 0h6m66 0h16m-386 1h1m251 0h30m-283 1h1m-2 1h1m-1 1h1m-2 1h1m-2 1h1m-1 1h1m-2 1h1m-1 1h1m-2 1h1m-2 1h1m-1 1h1m-2 1h1m-2 1h1m-1 1h1m-2 1h1m-1 1h1m-2 1h1m-2 1h1m-1 1h1m-2 1h1m-1 1h1m-2 1h1m-1 1h1m-2 1h1m-1 1h1m-2 1h1m-1 1h1m-2 1h1m-1 1h1m-2 1h1m-1 1h1m-2 1h1m-2 1h1m-1 1h1m-2 1h1m-1 1h1m-2 1h1m-2 1h1m-1 1h1m-2 1h1m-2 1h1m-1 1h1m-2 1h1m-1 1h1m-2 1h1m-2 1h1m-1 1h1m-2 1h1m-1 1h1m-2 1h1m-2 1h1m-1 1h1m-2 1h1m-2 1h1m-1 1h1m-2 1h1m-1 1h1m-2 1h1m-2 1h1m-1 1h1m-2 1h1m-1 1h1m-2 1h1m-1 1h1m-2 1h1m-2 1h1m-1 1h1m-2 1h1m-643 1h1m641 0h1m-642 1h2m638 0h1m-639 1h1m637 0h1m-638 1h1m635 0h1m-636 1h2m632 0h1m-633 1h1m631 0h1m-632 1h1m629 0h1m-630 1h2m627 0h1m-628 1h2m624 0h1m-625 1h1m622 0h1m-623 1h2m620 0h1m-621 1h1m618 0h1m-619 1h2m615 0h1m-616 1h1m614 0h1m-615 1h1m612 0h1m-613 1h2m610 0h1m-611 1h1m608 0h1m-609 1h1m606 0h1m-607 1h2m604 0h1m-605 1h2m601 0h1m-602 1h1m599 0h1m-600 1h2m597 0h1m-598 1h2m594 0h1m-595 1h2m591 0h1m-592 1h2m589 0h1m-590 1h2m586 0h1m-587 1h1m584 0h1m-585 1h2m582 0h1m-583 1h1m580 0h1m-581 1h1m578 0h1m-579 1h2m575 0h1m-576 1h1m574 0h1m-575 1h1m572 0h1m-573 1h2m569 0h1m-570 1h2m112 0h5m449 0h1m-567 1h1m103 0h8m5 0h3m445 0h1m-565 1h2m13 0h24m58 0h6m16 0h2m443 0h1m-563 1h13m24 0h6m48 0h4m24 0h2m440 0h1m-519 1h4m40 0h4m30 0h2m437 0h1m-514 1h6m30 0h4m36 0h2m434 0h1m-507 1h8m18 0h4m42 0h1m432 0h1m-498 1h8m6 0h4m47 0h2m430 0h1m-490 1h6m53 0h1m428 0h1m-429 1h2m425 0h1m-426 1h2m422 0h1m-423 1h1m420 0h1m-421 1h2m418 0h1m-419 1h1m416 0h1m-417 1h1m414 0h1m-415 1h1m412 0h1m-413 1h2m409 0h1m-410 1h1m407 0h1m-408 1h1m405 0h1m-406 1h1m403 0h1m-404 1h1m401 0h1m-402 1h1m399 0h1m-400 1h1m397 0h1m-398 1h2m394 0h1m-395 1h1m392 0h1m-393 1h1m390 0h1m-391 1h1m388 0h1m-389 1h1m387 0h1m-388 1h1m385 0h1m-386 1h1m383 0h1m-384 1h2m380 0h1m-381 1h1m378 0h1m-379 1h1m375 0h2m-377 1h1m373 0h1m-374 1h1m370 0h2m-372 1h2m366 0h2m-368 1h2m363 0h1m-364 1h1m361 0h1m-362 1h2m357 0h2m-359 1h2m354 0h1m-355 1h2m351 0h1m-352 1h2m347 0h2m-349 1h2m343 0h2m-345 1h1m338 0h4m-342 1h2m332 0h4m-336 1h2m326 0h4m-330 1h1m319 0h6m-325 1h2m197 0h32m74 0h14m-317 1h2m171 0h8m8 0h8m32 0h8m62 0h4m-301 1h2m153 0h16m8 0h8m48 0h5m51 0h6m-295 1h2m143 0h8m85 0h3m42 0h6m-287 1h2m93 0h48m96 0h2m38 0h2m-279 1h2m69 0h22m146 0h4m31 0h3m-275 1h2m65 0h2m172 0h4m24 0h3m-270 1h2m60 0h3m178 0h6m14 0h4m-265 1h2m55 0h3m187 0h14m-259 1h3m48 0h4m-52 1h4m40 0h4m-44 1h6m30 0h4m-34 1h14m12 0h4m-16 1h4m4 0h4m-8 1h4" fill="none" stroke="#ff0000" stroke-width="1"/>
<path class="c" d="M0 .5m1274 76h2m-4 1h2m2 0h3m-9 1h2m7 0h2m-13 1h2m11 0h3m-18 1h2m16 0h3m-22 1h1m21 0h2m-24 1h1m23 0h3m-28 1h1m27 0h3m-31 1h1m30 0h2m-34 1h1m33 0h2m-36 1h1m-2 1h1m-2 1h1m-1 1h1m-2 1h1m-1 1h1m-2 1h1m-1 1h1m-2 1h1m-2 1h1m-1 1h1m-2 1h1m-2 1h1m-1 1h1m-2 1h1m-2 1h1m-1 1h1m-2 1h1m-2 1h1m-1 1h1m-2 1h1m-2 1h1m-1 1h1m-2 1h1m-2 1h1m-1 1h1m-2 1h1m-2 1h1m-1 1h1m-2 1h1m-2 1h1m-1 1h1m-2 1h1m-2 1h1m-1 1h1m-2 1h1m-1 1h1m-2 1h1m-2 1h1m-1 1h1m-2 1h1m-2 1h1m-1 1h1m-2 1h1m-1 1h1m-2 1h1m-2 1h1m-1 1h1m-2 1h1m-1 1h1m-2 1h1m-1 1h1m-2 1h1m-2 1h1m-1 1h1m-2 1h1m-1 1h1m-2 1h1m-1 1h1m-2 1h1m-1 1h1m-2 1h1m-1 1h1m-2 1h1m-1 1h1m-2 1h1m-1 1h1m-2 1h1m-1 1h1m-2 1h1m-1 1h1m-2 1h1m-1 1h1m-67 1h1m64 0h1m-67 1h1m1 0h1m63 0h1m-69 1h2m2 0h1m62 0h1m-69 1h1m5 0h1m61 0h1m-70 1h1m7 0h1m59 0h1m-71 1h2m8 0h1m59 0h1m-72 1h1m11 0h1m57 0h1m-71 1h1m12 0h1m56 0h1m-72 1h1m13 0h1m55 0h1m-71 1h1m14 0h1m54 0h1m-72 1h1m16 0h1m52 0h1m-71 1h1m16 0h1m51 0h1m-71 1h1m18 0h9m42 0h1m-71 1h1m27 0h2m39 0h1m-71 1h1m30 0h1m38 0h1m-71 1h1m31 0h1m36 0h1m-71 1h1m33 0h2m34 0h1m-71 1h1m35 0h1m32 0h1m-71 1h1m37 0h5m26 0h1m-70 1h1m42 0h5m20 0h1m-70 1h1m48 0h3m17 0h1m-70 1h1m51 0h2m14 0h1m-70 1h1m54 0h2m11 0h1m-69 1h1m56 0h2m8 0h1m-68 1h1m58 0h2m5 0h1m-68 1h1m61 0h1m4 0h1m-68 1h1m62 0h2m1 0h1m-67 1h1m64 0h1m-67 1h1m-1 1h1m-1 1h1m-2 1h1m-1 1h1m-1 1h1m-2 1h1m-1 1h1m-2 1h1m-1 1h1m-1 1h1m-2 1h1m-1 1h1m-1 1h1m-2 1h1m-1 1h1m-1 1h1m-2 1h1m-1 1h1m-1 1h1m-2 1h1m-1 1h1m-1 1h1m-2 1h1m-1 1h1m-1 1h1m-1 1h1m-2 1h1m-1 1h1m-1 1h1m-2 1h1m-1 1h1m-1 1h1m-2 1h1m-1 1h1m-1 1h1m-2 1h1m-1 1h1m-1 1h1m-1 1h1m-2 1h1m-1 1h1m-1 1h1m-2 1h1m-1 1h1m-1 1h1m-2 1h1m-1 1h1m-1 1h1m-2 1h1m-1 1h1m-1 1h1m-2 1h1m-1 1h1m-1 1h1m-2 1h1m-1 1h1m-1 1h1m-1 1h1m-2 1h1m-1 1h1m-1 1h1m-2 1h1m-1 1h1m-1 1h1m-2 1h1m-1 1h1m-1 1h1m-2 1h1m-1 1h1m-1 1h1m-2 1h1m-1 1h1m-1 1h1m-2 1h1m-1 1h1m-1 1h1m-2 1h1m-1 1h1m-1 1h1m-2 1h1m-1 1h1m-1 1h1m-2 1h1m-1 1h1m-1 1h1m-2 1h1m-1 1h1m-1 1h1m-2 1h1m-1 1h1m-1 1h1m-2 1h1m-1 1h1m-1 1h1m-1 1h1m-2 1h1m-1 1h1m-1 1h1m-1 1h1m-2 1h1m-1 1h1m-1 1h1m-1 1h1m-1 1h1m-2 1h1m-1 1h1m-1 1h1m-1 1h1m-2 1h1m-1 1h1m-288 1h12m275 0h1m-294 1h6m12 0h1m274 0h1m-298 1h4m19 0h1m273 0h1m-408 1h5m83 0h8m8 0h6m24 0h2m270 0h1m-413 1h6m5 0h3m74 0h6m8 0h8m32 0h1m269 0h1m-415 1h2m14 0h2m68 0h4m55 0h1m268 0h1m-418 1h3m18 0h3m54 0h11m60 0h1m267 0h1m-421 1h3m24 0h2m50 0h2m72 0h1m265 0h1m-422 1h2m29 0h2m46 0h2m75 0h1m264 0h1m-425 1h3m33 0h2m13 0h14m15 0h2m78 0h1m263 0h1m-427 1h2m38 0h13m14 0h4m6 0h5m81 0h1m262 0h1m-428 1h1m71 0h6m87 0h1m261 0h1m-429 1h1m166 0h1m259 0h1m-429 1h1m168 0h1m258 0h1m-430 1h1m170 0h1m257 0h1m-430 1h1m171 0h1m256 0h1m-431 1h1m173 0h1m254 0h1m-431 1h1m175 0h1m253 0h1m-432 1h1m177 0h2m251 0h1m-433 1h1m180 0h1m249 0h1m-433 1h1m182 0h1m248 0h1m-433 1h1m183 0h1m246 0h1m-433 1h1m185 0h1m245 0h1m-433 1h1m186 0h1m243 0h1m-433 1h1m188 0h1m241 0h1m-433 1h1m190 0h1m240 0h1m-433 1h1m191 0h1m238 0h1m-433 1h1m192 0h1m237 0h1m-433 1h1m194 0h1m236 0h1m-433 1h1m195 0h1m234 0h1m-433 1h1m197 0h1m233 0h1m-433 1h1m198 0h1m231 0h1m-433 1h1m200 0h1m229 0h1m-432 1h1m201 0h1m228 0h1m-433 1h1m203 0h2m225 0h1m-432 1h1m205 0h1m224 0h1m-433 1h1m207 0h1m222 0h1m-432 1h1m208 0h1m221 0h1m-433 1h1m210 0h1m219 0h1m-432 1h1m211 0h2m216 0h1m-432 1h1m214 0h1m215 0h1m-432 1h1m215 0h1m213 0h1m-431 1h1m216 0h2m211 0h1m-432 1h1m219 0h1m209 0h1m-431 1h1m220 0h1m208 0h1m-432 1h1m222 0h1m206 0h1m-431 1h1m223 0h1m203 0h2m-431 1h1m225 0h2m82 0h6m111 0h2m-429 1h1m227 0h1m77 0h4m6 0h22m87 0h2m-428 1h1m229 0h1m72 0h4m32 0h4m78 0h5m-426 1h1m230 0h1m69 0h2m40 0h6m32 0h8m24 0h8m-421 1h1m231 0h2m64 0h3m48 0h8m8 0h16m8 0h6m12 0h6m-414 1h1m234 0h3m58 0h3m59 0h8m30 0h4m4 0h4m-408 1h1m237 0h2m54 0h2m104 0h4m-405 1h1m240 0h3m48 0h3m-295 1h1m243 0h3m18 0h14m8 0h5m-293 1h1m247 0h2m14 0h2m14 0h8m-288 1h1m249 0h6m5 0h3m-265 1h1m256 0h5m-262 1h1m-1 1h1m-2 1h1m-1 1h1m-2 1h1m-1 1h1m-2 1h1m-1 1h1m-2 1h1m-1 1h1m-1 1h1m-2 1h1m-1 1h1m-2 1h1m-1 1h1m-2 1h1m-1 1h1m-2 1h1m-1 1h1m-2 1h1m-1 1h1m-2 1h1m-1 1h1m-2 1h1m-1 1h1m-2 1h1m-1 1h1m-1 1h1m-2 1h1m-1 1h1m-1 1h1m-2 1h1m-1 1h1m-1 1h1m-2 1h1m-1 1h1m-1 1h1m-2 1h1m-1 1h1m-2 1h1m-1 1h1m-1 1h1m-2 1h1m-1 1h1m-1 1h1m-2 1h1m-1 1h1m-1 1h1m-2 1h1m-1 1h1m-1 1h1m-2 1h1m-1 1h1m-1 1h1m-2 1h1m-1 1h1m-1 1h1m-2 1h1m-1 1h1m-1 1h1m-2 1h1m-1 1h1m-1 1h1m-2 1h1m-1 1h1m-1 1h1m-2 1h1m-1 1h1m-1 1h1m-2 1h1m-1 1h1m-1 1h1m-2 1h1m-1 1h1m-1 1h1m-2 1h1m-600 1h5m594 0h1m-602 1h2m5 0h5m588 0h1m-603 1h2m12 0h3m585 0h1m-605 1h2m17 0h2m582 0h1m-606 1h2m21 0h2m580 0h1m-608 1h2m25 0h1m578 0h1m-608 1h1m28 0h1m577 0h1m-610 1h2m30 0h2m574 0h1m-611 1h2m34 0h1m573 0h1m-612 1h1m37 0h1m96 0h11m464 0h1m-572 1h1m93 0h2m11 0h3m461 0h1m-571 1h1m89 0h3m16 0h2m458 0h1m-569 1h1m83 0h5m21 0h2m456 0h1m-569 1h1m77 0h6m28 0h2m453 0h1m-567 1h1m72 0h4m36 0h1m452 0h1m-567 1h1m69 0h3m41 0h1m450 0h1m-565 1h1m67 0h1m45 0h2m448 0h1m-564 1h1m66 0h1m47 0h1m446 0h1m-563 1h1m65 0h1m49 0h1m445 0h1m-562 1h1m63 0h1m51 0h1m443 0h1m-560 1h1m61 0h1m53 0h1m442 0h1m-560 1h1m61 0h1m53 0h1m441 0h1m-558 1h1m59 0h1m55 0h1m439 0h1m-557 1h1m58 0h1m57 0h1m438 0h1m-556 1h1m56 0h1m59 0h1m436 0h1m-554 1h1m55 0h1m60 0h1m435 0h1m-554 1h1m54 0h1m61 0h1m434 0h1m-552 1h1m52 0h1m63 0h1m433 0h1m-552 1h1m51 0h1m65 0h1m431 0h1m-550 1h1m50 0h1m66 0h1m429 0h1m-549 1h1m49 0h1m68 0h1m427 0h1m-547 1h1m47 0h1m70 0h1m425 0h1m-546 1h1m46 0h1m72 0h1m423 0h1m-544 1h1m44 0h1m74 0h1m421 0h1m-543 1h1m44 0h1m75 0h1m419 0h1m-541 1h1m42 0h1m77 0h1m417 0h1m-540 1h1m41 0h1m79 0h1m415 0h1m-538 1h1m39 0h1m81 0h1m413 0h1m-537 1h1m37 0h2m83 0h1m411 0h1m-535 1h1m35 0h1m85 0h1m410 0h1m-533 1h2m32 0h1m87 0h1m407 0h2m-530 1h2m28 0h2m89 0h1m405 0h1m-526 1h1m25 0h2m92 0h1m403 0h1m-524 1h2m21 0h2m95 0h1m401 0h1m-521 1h3m15 0h3m97 0h1m400 0h1m-517 1h4m6 0h5m101 0h1m398 0h1m-512 1h6m107 0h1m396 0h1m-397 1h1m393 0h2m-396 1h1m392 0h1m-393 1h1m390 0h1m-391 1h1m379 0h10m-390 1h1m377 0h2m-379 1h1m373 0h3m-376 1h1m369 0h3m-373 1h1m365 0h4m-369 1h1m361 0h3m-364 1h1m358 0h2m-361 1h1m357 0h1m-358 1h1m354 0h2m-356 1h1m351 0h2m-354 1h1m350 0h1m-351 1h1m348 0h1m-349 1h1m346 0h1m-348 1h1m345 0h1m-346 1h1m192 0h22m129 0h1m-344 1h1m186 0h5m22 0h4m124 0h1m-343 1h1m184 0h2m31 0h4m119 0h1m-341 1h1m182 0h1m37 0h4m114 0h1m-339 1h1m95 0h12m72 0h2m42 0h4m109 0h1m-338 1h1m72 0h3m18 0h2m12 0h4m66 0h2m48 0h4m103 0h2m-336 1h1m69 0h2m3 0h4m11 0h3m18 0h4m60 0h2m54 0h6m95 0h2m-333 1h1m66 0h2m9 0h11m25 0h4m54 0h2m62 0h8m8 0h8m69 0h2m-331 1h1m64 0h2m51 0h2m49 0h3m72 0h8m8 0h20m47 0h2m-328 1h1m61 0h2m55 0h2m44 0h3m111 0h2m43 0h2m-326 1h1m60 0h1m59 0h2m38 0h4m116 0h1m40 0h2m-323 1h1m58 0h1m62 0h1m17 0h6m8 0h6m121 0h1m37 0h2m-321 1h1m57 0h1m64 0h2m13 0h2m6 0h8m128 0h2m33 0h2m-318 1h1m54 0h2m67 0h5m5 0h3m146 0h1m30 0h2m-315 1h1m52 0h1m74 0h5m150 0h3m25 0h2m-313 1h1m51 0h1m233 0h4m19 0h2m-310 1h1m49 0h1m238 0h19m-308 1h1m48 0h1m-49 1h1m46 0h1m-48 1h1m45 0h1m-46 1h1m43 0h1m-44 1h2m40 0h1m-41 1h1m38 0h1m-39 1h1m36 0h1m-37 1h2m32 0h2m-34 1h1m29 0h2m-31 1h10m16 0h3m-19 1h3m10 0h3m-13 1h2m4 0h4m-8 1h4" fill="none" stroke="#0000cd" stroke-width="1"/>
<g class="c">
<rect x="2" y="138" width="1415" height="3" fill="#ff0000"/>
<rect x="2" y="233" width="1415" height="3" fill="#00ff00"/>
<rect x="2" y="328" width="1415" height="3" fill="#0000ff"/>
<rect x="2" y="404" width="1415" height="3" fill="#0000ff"/>
<rect x="2" y="463" width="1415" height="3" fill="#0000ff"/>
<rect x="1" y="136" width="7" height="7" fill="#ff0000"/>
<rect x="4" y="139" width="1" height="1" fill="#fff"/>
<rect x="1411" y="136" width="7" height="7" fill="#ff0000"/>
<rect x="1414" y="139" width="1" height="1" fill="#fff"/>
<rect x="1" y="231" width="7" height="7" fill="#00ff00"/>
<rect x="4" y="234" width="1" height="1" fill="#fff"/>
<rect x="1411" y="231" width="7" height="7" fill="#00ff00"/>
<rect x="1414" y="234" width="1" height="1" fill="#fff"/>
<rect x="1" y="326" width="7" height="7" fill="#0000ff"/>
<rect x="4" y="329" width="1" height="1" fill="#fff"/>
<rect x="1411" y="326" width="7" height="7" fill="#0000ff"/>
<rect x="1414" y="329" width="1" height="1" fill="#fff"/>
<rect x="2" y="626" width="1" height="27" fill="#c0c0c0"/>
<rect x="10" y="626" width="1" height="27" fill="#c0c0c0"/>
<rect x="18" y="626" width="1" height="25" fill="#c0c0c0"/>
<rect x="26" y="626" width="1" height="27" fill="#c0c0c0"/>
<rect x="34" y="626" width="1" height="28" fill="#c0c0c0"/>
<rect x="42" y="626" width="1" height="29" fill="#c0c0c0"/>
<rect x="50" y="626" width="1" height="32" fill="#c0c0c0"/>
<rect x="58" y="626" width="1" height="36" fill="#c0c0c0"/>
<rect x="66" y="626" width="1" height="34" fill="#c0c0c0"/>
<rect x="74" y="626" width="1" height="30" fill="#c0c0c0"/>
<rect x="82" y="626" width="1" height="28" fill="#c0c0c0"/>
<rect x="90" y="626" width="1" height="25" fill="#c0c0c0"/>
<rect x="98" y="626" width="1" height="21" fill="#c0c0c0"/>
<rect x="106" y="626" width="1" height="18" fill="#c0c0c0"/>
<rect x="114" y="626" width="1" height="15" fill="#c0c0c0"/>
<rect x="122" y="626" width="1" height="13" fill="#c0c0c0"/>
<rect x="130" y="626" width="1" height="12" fill="#c0c0c0"/>
<rect x="138" y="626" width="1" height="11" fill="#c0c0c0"/>
<rect x="146" y="626" width="1" height="10" fill="#c0c0c0"/>
<rect x="154" y="626" width="1" height="10" fill="#c0c0c0"/>
<rect x="162" y="626" width="1" height="12" fill="#c0c0c0"/>
<rect x="170" y="626" width="1" height="14" fill="#c0c0c0"/>
<rect x="178" y="626" width="1" height="17" fill="#c0c0c0"/>
<rect x="186" y="626" width="1" height="20" fill="#c0c0c0"/>
<rect x="194" y="626" width="1" height="24" fill="#c0c0c0"/>
<rect x="202" y="626" width="1" height="27" fill="#c0c0c0"/>
<rect x="210" y="626" width="1" height="29" fill="#c0c0c0"/>
<rect x="218" y="626" width="1" height="29" fill="#c0c0c0"/>
<rect x="226" y="626" width="1" height="27" fill="#c0c0c0"/>
<rect x="234" y="626" width="1" height="26" fill="#c0c0c0"/>
<rect x="242" y="626" width="1" height="26" fill="#c0c0c0"/>
<rect x="250" y="626" width="1" height="23" fill="#c0c0c0"/>
<rect x="258" y="626" width="1" height="19" fill="#c0c0c0"/>
<rect x="266" y="626" width="1" height="16" fill="#c0c0c0"/>
<rect x="274" y="626" width="1" height="14" fill="#c0c0c0"/>
<rect x="282" y="626" width="1" height="14" fill="#c0c0c0"/>
<rect x="290" y="626" width="1" height="14" fill="#c0c0c0"/>
<rect x="298" y="626" width="1" height="13" fill="#c0c0c0"/>
<rect x="306" y="626" width="1" height="12" fill="#c0c0c0"/>
<rect x="314" y="626" width="1" height="11" fill="#c0c0c0"/>
<rect x="322" y="626" width="1" height="11" fill="#c0c0c0"/>
<rect x="330" y="626" width="1" height="13" fill="#c0c0c0"/>
<rect x="338" y="626" width="1" height="12" fill="#c0c0c0"/>
<rect x="346" y="626" width="1" height="9" fill="#c0c0c0"/>
<rect x="354" y="626" width="1" height="9" fill="#c0c0c0"/>
<rect x="362" y="626" width="1" height="7" fill="#c0c0c0"/>
<rect x="370" y="626" width="1" height="6" fill="#c0c0c0"/>
<rect x="378" y="626" width="1" height="4" fill="#c0c0c0"/>
<rect x="386" y="626" width="1" height="3" fill="#c0c0c0"/>
<rect x="394" y="626" width="1" height="3" fill="#c0c0c0"/>
<rect x="402" y="626" width="1" height="3" fill="#c0c0c0"/>
<rect x="410" y="626" width="1" height="3" fill="#c0c0c0"/>
<rect x="418" y="626" width="1" height="3" fill="#c0c0c0"/>
<rect x="426" y="626" width="1" height="4" fill="#c0c0c0"/>
<rect x="434" y="626" width="1" height="4" fill="#c0c0c0"/>
<rect x="442" y="626" width="1" height="3" fill="#c0c0c0"/>
<rect x="450" y="626" width="1" height="3" fill="#c0c0c0"/>
<rect x="458" y="626" width="1" height="2" fill="#c0c0c0"/>
<rect x="466" y="626" width="1" height="3" fill="#c0c0c0"/>
<rect x="474" y="626" width="1" height="3" fill="#c0c0c0"/>
<rect x="482" y="626" width="1" height="4" fill="#c0c0c0"/>
<rect x="490" y="626" width="1" height="6" fill="#c0c0c0"/>
<rect x="498" y="626" width="1" height="6" fill="#c0c0c0"/>
<rect x="506" y="626" width="1" height="4" fill="#c0c0c0"/>
<rect x="514" y="626" width="1" height="4" fill="#c0c0c0"/>
<rect x="522" y="626" width="1" height="2" fill="#c0c0c0"/>
<rect x="530" y="626" width="1" height="1" fill="#c0c0c0"/>
<rect x="538" y="625" width="1" height="2" fill="#c0c0c0"/>
<rect x="546" y="624" width="1" height="3" fill="#c0c0c0"/>
<rect x="554" y="623" width="1" height="4" fill="#c0c0c0"/>
<rect x="562" y="623" width="1" height="4" fill="#c0c0c0"/>
<rect x="570" y="622" width="1" height="5" fill="#c0c0c0"/>
<rect x="578" y="622" width="1" height="5" fill="#c0c0c0"/>
<rect x="586" y="618" width="1" height="9" fill="#c0c0c0"/>
<rect x="594" y="614" width="1" height="13" fill="#c0c0c0"/>
<rect x="602" y="611" width="1" height="16" fill="#c0c0c0"/>
<rect x="610" y="605" width="1" height="22" fill="#c0c0c0"/>
<rect x="618" y="601" width="1" height="26" fill="#c0c0c0"/>
<rect x="626" y="592" width="1" height="35" fill="#c0c0c0"/>
<rect x="634" y="586" width="1" height="41" fill="#c0c0c0"/>
<rect x="642" y="582" width="1" height="45" fill="#c0c0c0"/>
<rect x="650" y="578" width="1" height="49" fill="#c0c0c0"/>
<rect x="658" y="574" width="1" height="53" fill="#c0c0c0"/>
<rect x="666" y="572" width="1" height="55" fill="#c0c0c0"/>
<rect x="674" y="572" width="1" height="55" fill="#c0c0c0"/>
<rect x="682" y="571" width="1" height="56" fill="#c0c0c0"/>
<rect x="690" y="573" width="1" height="54" fill="#c0c0c0"/>
<rect x="698" y="575" width="1" height="52" fill="#c0c0c0"/>
<rect x="706" y="578" width="1" height="49" fill="#c0c0c0"/>
<rect x="714" y="580" width="1" height="47" fill="#c0c0c0"/>
<rect x="722" y="582" width="1" height="45" fill="#c0c0c0"/>
<rect x="730" y="583" width="1" height="44" fill="#c0c0c0"/>
<rect x="738" y="584" width="1" height="43" fill="#c0c0c0"/>
<rect x="746" y="587" width="1" height="40" fill="#c0c0c0"/>
<rect x="754" y="590" width="1" height="37" fill="#c0c0c0"/>
<rect x="762" y="592" width="1" height="35" fill="#c0c0c0"/>
<rect x="770" y="593" width="1" height="34" fill="#c0c0c0"/>
<rect x="778" y="594" width="1" height="33" fill="#c0c0c0"/>
<rect x="786" y="595" width="1" height="32" fill="#c0c0c0"/>
<rect x="794" y="597" width="1" height="30" fill="#c0c0c0"/>
<rect x="802" y="599" width="1" height="28" fill="#c0c0c0"/>
<rect x="810" y="601" width="1" height="26" fill="#c0c0c0"/>
<rect x="818" y="602" width="1" height="25" fill="#c0c0c0"/>
<rect x="826" y="604" width="1" height="23" fill="#c0c0c0"/>
<rect x="834" y="608" width="1" height="19" fill="#c0c0c0"/>
<rect x="842" y="612" width="1" height="15" fill="#c0c0c0"/>
<rect x="850" y="618" width="1" height="9" fill="#c0c0c0"/>
<rect x="858" y="622" width="1" height="5" fill="#c0c0c0"/>
<rect x="866" y="625" width="1" height="2" fill="#c0c0c0"/>
<rect x="874" y="626" width="1" height="1" fill="#c0c0c0"/>
<rect x="890" y="626" width="1" height="2" fill="#c0c0c0"/>
<rect x="898" y="626" width="1" height="4" fill="#c0c0c0"/>
<rect x="906" y="626" width="1" height="6" fill="#c0c0c0"/>
<rect x="914" y="626" width="1" height="4" fill="#c0c0c0"/>
<rect x="922" y="626" width="1" height="4" fill="#c0c0c0"/>
<rect x="930" y="626" width="1" height="4" fill="#c0c0c0"/>
<rect x="938" y="626" width="1" height="3" fill="#c0c0c0"/>
<rect x="946" y="626" width="1" height="3" fill="#c0c0c0"/>
<rect x="954" y="626" width="1" height="2" fill="#c0c0c0"/>
<rect x="962" y="626" width="1" height="3" fill="#c0c0c0"/>
<rect x="970" y="626" width="1" height="4" fill="#c0c0c0"/>
<rect x="978" y="626" width="1" height="4" fill="#c0c0c0"/>
<rect x="986" y="626" width="1" height="4" fill="#c0c0c0"/>
<rect x="994" y="626" width="1" height="4" fill="#c0c0c0"/>
<rect x="1002" y="626" width="1" height="3" fill="#c0c0c0"/>
<rect x="1010" y="626" width="1" height="3" fill="#c0c0c0"/>
<rect x="1018" y="626" width="1" height="3" fill="#c0c0c0"/>
<rect x="1026" y="626" width="1" height="3" fill="#c0c0c0"/>
<rect x="1034" y="626" width="1" height="3" fill="#c0c0c0"/>
<rect x="1042" y="626" width="1" height="3" fill="#c0c0c0"/>
<rect x="1050" y="626" width="1" height="3" fill="#c0c0c0"/>
<rect x="1058" y="626" width="1" height="3" fill="#c0c0c0"/>
<rect x="1066" y="626" width="1" height="2" fill="#c0c0c0"/>
<rect x="1074" y="626" width="1" height="1" fill="#c0c0c0"/>
<rect x="1082" y="626" width="1" height="1" fill="#c0c0c0"/>
<rect x="1090" y="619" width="1" height="8" fill="#c0c0c0"/>
<rect x="1098" y="613" width="1" height="14" fill="#c0c0c0"/>
<rect x="1106" y="597" width="1" height="30" fill="#c0c0c0"/>
<rect x="1114" y="591" width="1" height="36" fill="#c0c0c0"/>
<rect x="1122" y="584" width="1" height="43" fill="#c0c0c0"/>
<rect x="1130" y="579" width="1" height="48" fill="#c0c0c0"/>
<rect x="1138" y="574" width="1" height="53" fill="#c0c0c0"/>
<rect x="1146" y="571" width="1" height="56" fill="#c0c0c0"/>
<rect x="1154" y="576" width="1" height="51" fill="#c0c0c0"/>
<rect x="1162" y="578" width="1" height="49" fill="#c0c0c0"/>
<rect x="1170" y="580" width="1" height="47" fill="#c0c0c0"/>
<rect x="1178" y="583" width="1" height="44" fill="#c0c0c0"/>
<rect x="1186" y="583" width="1" height="44" fill="#c0c0c0"/>
<rect x="1194" y="583" width="1" height="44" fill="#c0c0c0"/>
<rect x="1202" y="585" width="1" height="42" fill="#c0c0c0"/>
<rect x="1210" y="585" width="1" height="42" fill="#c0c0c0"/>
<rect x="1218" y="581" width="1" height="46" fill="#c0c0c0"/>
<rect x="1226" y="577" width="1" height="50" fill="#c0c0c0"/>
<rect x="1234" y="574" width="1" height="53" fill="#c0c0c0"/>
<rect x="1242" y="572" width="1" height="55" fill="#c0c0c0"/>
<rect x="1250" y="573" width="1" height="54" fill="#c0c0c0"/>
<rect x="1258" y="573" width="1" height="54" fill="#c0c0c0"/>
<rect x="1266" y="571" width="1" height="56" fill="#c0c0c0"/>
<rect x="1274" y="572" width="1" height="55" fill="#c0c0c0"/>
<rect x="1282" y="575" width="1" height="52" fill="#c0c0c0"/>
<rect x="1290" y="579" width="1" height="48" fill="#c0c0c0"/>
<rect x="1298" y="582" width="1" height="45" fill="#c0c0c0"/>
</g>
<path class="c" d="M0 .5m1280 573h3m3 0h3m3 0h3m3 0h1m-595 1h3m3 0h3m3 0h3m3 0h3m549 0h3m-579 1h3m27 0h3m3 0h1m533 0h3m-578 1h2m40 0h2m3 0h1m521 0h3m-573 1h1m48 0h2m513 0h3m-573 1h3m57 0h3m435 0h3m3 0h3m3 0h3m3 0h3m45 0h3m-571 1h1m69 0h1m425 0h3m27 0h3m3 0h1m24 0h2m3 0h3m-567 1h2m71 0h2m3 0h1m413 0h3m40 0h2m3 0h3m9 0h3m3 0h1m-480 1h2m407 0h1m57 0h3m-465 1h3m399 0h2m-493 1h2m-3 1h1m95 0h3m389 0h1m-387 1h1m383 0h2m-492 1h1m106 0h2m-111 1h2m112 0h3m371 0h1m-369 1h1m365 0h2m-492 1h1m124 0h2m-128 1h1m130 0h3m-135 1h1m137 0h3m3 0h1m342 0h2m-344 1h2m339 0h1m-491 1h1m153 0h3m-159 1h2m160 1h3m323 0h1m-321 1h1m318 0h1m-493 1h2m172 0h2m315 0h1m-493 1h1m179 0h3m3 1h1m-191 1h1m190 0h2m299 0h1m-495 1h2m196 0h3m292 0h1m-290 1h1m287 0h1m-497 1h1m208 0h2m-212 1h1m214 0h1m-217 1h1m216 0h2m274 0h2m-3 1h1m-497 1h1m225 0h3m-231 1h2m232 1h2m258 0h1m-499 1h1m239 0h1m256 0h1m-500 1h2m244 0h1m251 0h1m-252 1h2m-253 1h1m255 0h1m241 0h1m-501 1h2m257 0h2m238 0h1m-505 1h2m501 0h1m-510 1h2m3 0h1m269 0h3m-279 1h1m504 0h2m-511 1h1m285 0h2m220 0h1m-511 1h2m288 0h1m215 0h1m-512 1h2m297 0h1m209 0h2m-517 1h2m3 0h1m300 0h2m-314 1h2m3 0h1m311 0h1m-319 1h1m318 0h2m196 0h2m-525 1h3m327 0h1m191 0h1m-534 1h2m3 0h3m334 0h2m-351 1h3m3 0h1m347 0h3m177 0h3m-543 1h3m363 0h1m167 0h3m-548 1h2m3 0h3m370 0h2m3 0h1m155 0h3m-645 1h3m3 0h3m3 0h3m3 0h3m3 0h3m3 0h3m3 0h3m3 0h3m51 0h3m3 0h1m384 0h2m3 0h3m3 0h3m69 0h3m3 0h3m3 0h1m11 0h3m3 0h3m3 0h3m3 0h3m3 0h3m3 0h3m3 0h3m3 0h3m-656 1h2m3 0h3m3 0h3m51 0h3m3 0h3m3 0h3m3 0h3m3 0h3m3 0h3m3 0h3m3 0h3m411 0h3m3 0h3m3 0h3m3 0h3m3 0h3m3 0h3m3 0h3m3 0h3m3 0h3m3 0h3m3 0h3m16 0h2m3 0h3m-621 1h3m3 0h3m3 0h1m-19 1h3m-9 1h3m-15 1h3m3 0h3m-20 1h2m3 0h3m-15 1h3m3 0h1m-13 1h3m-21 1h3m3 0h3m3 0h3m-189 1h3m3 0h3m3 0h1m155 0h3m-182 1h2m3 0h3m16 0h2m3 0h3m129 0h3m3 0h3m3 0h3m-182 1h2m3 0h1m35 0h3m117 0h3m-165 1h1m47 0h3m3 0h1m102 0h2m-165 1h3m58 0h2m99 0h1m-97 1h3m87 0h3m-165 1h3m153 0h3m-81 1h3m69 0h3m-159 1h3m87 0h1m60 0h2m-159 1h3m94 0h2m3 0h1m48 0h2m3 0h1m-163 1h3m106 0h2m3 0h1m35 0h3m3 0h1m-42 1h2m27 0h3m-153 1h3m123 0h3m3 0h3m3 0h3m3 0h3m-153 2h3m-9 1h3m-68 1h2m3 0h3m3 0h3m3 0h3m3 0h1m35 0h3m-69 1h3m3 0h1m24 0h2m3 0h3m3 0h3m3 0h3m3 0h3m3 0h3m-87 1h3m3 0h3m3 0h3m3 0h3m-27 1h3" fill="none" stroke="#ff0000" stroke-width="1"/>
<g class="c">
<line  x1="3" y1="709.5" x2="1416" y2="709.5" stroke="#c0c0c0" stroke-width="1" stroke-dasharray="3 3"/>
<line  x1="3" y1="760.5" x2="1416" y2="760.5" stroke="#c0c0c0" stroke-width="1" stroke-dasharray="3 3"/>
</g>
<path class="c" d="M0 .5m1106 684h1m-1 1h1m-2 1h1m1 0h1m-3 1h1m1 0h1m-4 1h1m2 0h1m-4 1h1m3 0h1m-6 1h1m4 0h1m-6 1h1m4 0h1m-483 1h1m475 0h1m5 0h1m-484 1h1m1 0h2m26 0h4m443 0h1m6 0h1m-486 1h1m4 0h2m18 0h6m4 0h2m440 0h1m7 0h1m-487 1h1m7 0h1m15 0h2m12 0h2m438 0h1m7 0h1m-488 1h1m9 0h2m10 0h3m16 0h1m436 0h1m9 0h1m-489 1h1m11 0h10m20 0h2m434 0h1m9 0h1m-490 1h1m44 0h2m431 0h1m10 0h1m-491 1h1m47 0h3m10 0h2m416 0h1m11 0h1m-493 1h1m51 0h2m4 0h4m2 0h2m413 0h1m12 0h1m-497 1h4m54 0h4m8 0h2m408 0h4m12 0h1m-502 1h5m72 0h1m402 0h5m17 0h1m-504 1h1m78 0h2m400 0h1m21 0h1m-505 1h1m81 0h1m398 0h1m22 0h1m-506 1h1m83 0h2m396 0h1m22 0h1m30 0h4m79 0h5m-626 1h2m86 0h1m35 0h4m355 0h1m24 0h1m8 0h5m8 0h8m3 0h1m77 0h2m5 0h12m-639 1h1m89 0h1m30 0h4m4 0h4m351 0h1m24 0h1m6 0h2m5 0h8m12 0h1m74 0h2m19 0h1m22 0h1m-664 1h1m91 0h2m24 0h4m12 0h2m348 0h1m25 0h1m4 0h2m27 0h1m72 0h2m22 0h1m19 0h2m1 0h2m-668 1h2m94 0h1m19 0h4m18 0h1m38 0h9m300 0h1m26 0h1m1 0h2m30 0h1m69 0h2m25 0h1m16 0h2m5 0h2m-674 1h4m97 0h3m12 0h4m23 0h1m35 0h2m9 0h1m298 0h1m27 0h2m32 0h1m68 0h1m28 0h1m13 0h2m9 0h1m-679 1h4m104 0h4m4 0h4m28 0h1m32 0h2m11 0h1m298 0h1m61 0h1m67 0h1m30 0h1m9 0h3m12 0h2m-685 1h4m112 0h4m33 0h1m29 0h2m14 0h1m297 0h1m62 0h1m65 0h1m32 0h1m6 0h2m17 0h1m-689 1h3m154 0h1m17 0h11m17 0h1m295 0h1m63 0h1m63 0h2m34 0h1m2 0h3m20 0h1m-691 1h1m158 0h1m12 0h4m29 0h1m294 0h1m63 0h1m62 0h1m37 0h2m24 0h1m-692 1h1m159 0h1m5 0h6m33 0h1m293 0h1m65 0h1m60 0h1m65 0h1m-694 1h1m161 0h5m40 0h1m292 0h1m65 0h1m58 0h2m67 0h1m-695 1h1m207 0h1m22 0h6m262 0h1m67 0h1m55 0h2m70 0h1m-697 1h1m209 0h1m13 0h8m6 0h4m258 0h1m67 0h1m34 0h13m5 0h3m73 0h1m-698 1h1m209 0h1m5 0h8m18 0h2m255 0h1m68 0h1m32 0h2m13 0h5m77 0h1m-700 1h1m211 0h5m27 0h1m255 0h1m69 0h1m29 0h2m98 0h3m12 0h2m-717 1h1m244 0h1m253 0h1m70 0h1m9 0h5m13 0h2m103 0h4m4 0h4m-716 1h1m245 0h1m252 0h1m71 0h1m7 0h2m5 0h13m109 0h4m-764 1h3m49 0h1m246 0h1m251 0h1m72 0h1m5 0h1m-633 1h2m3 0h2m36 0h1m9 0h1m247 0h1m250 0h1m73 0h1m3 0h2m-635 1h3m7 0h2m33 0h1m1 0h2m7 0h1m248 0h1m248 0h1m75 0h3m-635 1h2m12 0h2m30 0h1m4 0h2m4 0h1m249 0h1m247 0h1m76 0h1m-635 1h2m16 0h18m11 0h1m7 0h1m3 0h1m249 0h1m246 0h1m-559 1h2m36 0h2m7 0h2m9 0h3m251 0h1m235 0h3m7 0h1m-561 1h2m40 0h2m4 0h1m13 0h1m251 0h1m234 0h1m3 0h4m2 0h1m-706 1h9m135 0h2m44 0h2m1 0h1m267 0h1m232 0h1m8 0h2m-707 1h2m9 0h2m131 0h2m48 0h1m268 0h1m106 0h2m123 0h1m-950 1h1m252 0h1m13 0h1m76 0h1m51 0h2m319 0h1m105 0h1m2 0h3m10 0h2m106 0h2m-951 1h2m1 0h1m249 0h2m15 0h1m73 0h2m1 0h1m48 0h2m322 0h1m103 0h1m6 0h2m4 0h4m2 0h1m104 0h1m-951 1h2m4 0h1m229 0h2m15 0h2m18 0h2m16 0h2m51 0h2m4 0h1m45 0h2m324 0h1m103 0h1m8 0h4m7 0h1m74 0h4m24 0h1m-952 1h2m7 0h1m227 0h1m2 0h2m11 0h2m22 0h1m11 0h4m2 0h2m47 0h2m7 0h1m42 0h2m327 0h1m101 0h1m21 0h1m60 0h13m4 0h2m21 0h1m-962 1h11m10 0h1m11 0h5m123 0h5m80 0h2m5 0h2m7 0h2m25 0h11m8 0h2m27 0h18m10 0h1m39 0h2m329 0h1m100 0h1m23 0h1m35 0h3m19 0h2m19 0h1m19 0h1m-963 1h2m22 0h1m8 0h2m5 0h6m116 0h1m5 0h12m67 0h1m9 0h2m2 0h3m48 0h1m24 0h2m28 0h1m19 0h1m17 0h2m332 0h1m79 0h10m9 0h1m24 0h1m18 0h3m12 0h2m3 0h4m14 0h1m22 0h1m16 0h2m-965 1h3m25 0h1m5 0h2m13 0h4m111 0h1m18 0h1m22 0h2m13 0h6m22 0h1m12 0h2m52 0h2m5 0h5m11 0h1m31 0h1m16 0h2m1 0h1m14 0h2m334 0h5m74 0h1m10 0h2m6 0h1m26 0h1m13 0h4m3 0h3m7 0h2m9 0h4m8 0h2m24 0h2m13 0h1m-981 1h2m14 0h2m29 0h1m2 0h2m19 0h10m100 0h1m20 0h1m20 0h1m2 0h3m8 0h2m6 0h4m16 0h2m69 0h5m5 0h3m6 0h2m33 0h1m14 0h1m3 0h1m13 0h1m341 0h4m31 0h9m30 0h1m12 0h2m4 0h1m27 0h1m8 0h4m10 0h2m3 0h2m15 0h4m2 0h2m28 0h1m11 0h1m-982 1h2m2 0h2m10 0h2m32 0h2m31 0h1m97 0h2m22 0h2m17 0h1m6 0h2m3 0h3m12 0h1m14 0h1m84 0h2m2 0h2m36 0h1m11 0h2m5 0h1m12 0h1m345 0h1m28 0h2m9 0h2m27 0h1m15 0h2m1 0h1m29 0h1m3 0h4m16 0h3m21 0h2m31 0h5m4 0h2m-1051 1h1m68 0h1m6 0h2m6 0h2m68 0h1m95 0h1m26 0h1m15 0h1m9 0h3m15 0h1m13 0h1m87 0h2m39 0h5m4 0h2m7 0h1m11 0h1m346 0h1m26 0h2m13 0h2m25 0h1m17 0h1m31 0h3m82 0h4m-1048 1h2m64 0h2m9 0h2m2 0h2m71 0h1m93 0h1m28 0h1m13 0h1m29 0h1m11 0h1m134 0h4m10 0h1m10 0h1m347 0h1m23 0h2m17 0h1m23 0h1m-907 1h1m61 0h2m13 0h2m74 0h1m67 0h2m22 0h1m30 0h1m11 0h1m31 0h1m10 0h1m148 0h1m9 0h1m349 0h1m20 0h2m20 0h2m20 0h1m-905 1h1m59 0h1m92 0h1m65 0h1m2 0h3m17 0h2m32 0h3m7 0h1m33 0h1m8 0h1m150 0h1m7 0h1m350 0h1m18 0h2m24 0h5m15 0h1m-904 1h2m8 0h2m47 0h1m93 0h1m63 0h1m6 0h2m13 0h2m37 0h4m2 0h1m34 0h1m7 0h1m152 0h1m6 0h1m351 0h1m16 0h1m31 0h4m10 0h1m-901 1h1m3 0h4m2 0h1m45 0h1m95 0h1m61 0h1m9 0h6m5 0h2m43 0h2m36 0h1m5 0h1m153 0h1m5 0h1m353 0h1m13 0h2m36 0h2m7 0h1m-899 1h3m7 0h1m44 0h1m96 0h1m59 0h1m16 0h5m84 0h1m3 0h1m155 0h1m3 0h1m354 0h1m11 0h2m40 0h2m5 0h1m-889 1h1m43 0h1m98 0h2m57 0h1m106 0h1m2 0h1m155 0h1m3 0h1m355 0h1m8 0h2m44 0h1m3 0h1m-887 1h1m42 0h1m100 0h1m12 0h1m42 0h1m107 0h1m1 0h1m157 0h1m1 0h1m357 0h1m5 0h2m47 0h2m1 0h1m-886 1h1m40 0h1m102 0h1m9 0h2m1 0h2m39 0h1m109 0h1m158 0h1m1 0h1m357 0h1m2 0h3m51 0h1m-884 1h1m39 0h1m103 0h2m5 0h2m5 0h2m36 0h1m270 0h1m359 0h2m-828 1h1m38 0h1m105 0h1m2 0h2m9 0h1m34 0h1m-195 1h1m37 0h1m107 0h2m12 0h2m31 0h1m-193 1h1m36 0h1m123 0h2m28 0h1m-191 1h13m22 0h1m126 0h3m24 0h1m-177 1h4m18 0h1m129 0h2m20 0h2m-172 1h1m17 0h1m131 0h12m7 0h1m-169 1h1m15 0h1m144 0h4m2 0h1m-167 1h1m14 0h1m148 0h2m-165 1h1m12 0h1m-13 1h1m11 0h1m-12 1h1m9 0h1m-10 1h1m5 0h4m-9 1h5" fill="none" stroke="#1e90ff" stroke-width="1"/>
<text x="1422.5" y="35" font-size="9.8" fill="#000" stroke="#000" stroke-width="0.15" textLength="33.3" lengthAdjust="spacingAndGlyphs">7.21390</text>
<text x="1422.5" y="68" font-size="9.8" fill="#000" stroke="#000" stroke-width="0.15" textLength="33.3" lengthAdjust="spacingAndGlyphs">7.17990</text>
<text x="1422.5" y="101" font-size="9.8" fill="#000" stroke="#000" stroke-width="0.15" textLength="33.3" lengthAdjust="spacingAndGlyphs">7.14490</text>
<text x="1422.5" y="134" font-size="9.8" fill="#000" stroke="#000" stroke-width="0.15" textLength="33.3" lengthAdjust="spacingAndGlyphs">7.10990</text>
<text x="1422.5" y="167" font-size="9.8" fill="#000" stroke="#000" stroke-width="0.15" textLength="33.3" lengthAdjust="spacingAndGlyphs">7.07490</text>
<text x="1422.5" y="200" font-size="9.8" fill="#000" stroke="#000" stroke-width="0.15" textLength="33.3" lengthAdjust="spacingAndGlyphs">7.04090</text>
<text x="1422.5" y="233" font-size="9.8" fill="#000" stroke="#000" stroke-width="0.15" textLength="33.3" lengthAdjust="spacingAndGlyphs">7.00590</text>
<text x="1422.5" y="266" font-size="9.8" fill="#000" stroke="#000" stroke-width="0.15" textLength="33.3" lengthAdjust="spacingAndGlyphs">6.97090</text>
<text x="1422.5" y="299" font-size="9.8" fill="#000" stroke="#000" stroke-width="0.15" textLength="33.3" lengthAdjust="spacingAndGlyphs">6.93590</text>
<text x="1422.5" y="332" font-size="9.8" fill="#000" stroke="#000" stroke-width="0.15" textLength="33.3" lengthAdjust="spacingAndGlyphs">6.90190</text>
<text x="1422.5" y="365" font-size="9.8" fill="#000" stroke="#000" stroke-width="0.15" textLength="33.3" lengthAdjust="spacingAndGlyphs">6.86690</text>
<text x="1422.5" y="398" font-size="9.8" fill="#000" stroke="#000" stroke-width="0.15" textLength="33.3" lengthAdjust="spacingAndGlyphs">6.83190</text>
<text x="1422.5" y="431" font-size="9.8" fill="#000" stroke="#000" stroke-width="0.15" textLength="33.3" lengthAdjust="spacingAndGlyphs">6.79790</text>
<text x="1422.5" y="464" font-size="9.8" fill="#000" stroke="#000" stroke-width="0.15" textLength="33.3" lengthAdjust="spacingAndGlyphs">6.76290</text>
<text x="1422.5" y="497" font-size="9.8" fill="#000" stroke="#000" stroke-width="0.15" textLength="33.3" lengthAdjust="spacingAndGlyphs">6.72790</text>
<text x="1422.5" y="530" font-size="9.8" fill="#000" stroke="#000" stroke-width="0.15" textLength="33.3" lengthAdjust="spacingAndGlyphs">6.69290</text>
<text x="1422.5" y="563" font-size="9.8" fill="#000" stroke="#000" stroke-width="0.15" textLength="33.3" lengthAdjust="spacingAndGlyphs">6.65890</text>
<text x="1420.8" y="575" font-size="9.8" fill="#000" stroke="#000" stroke-width="0.15" textLength="38.5" lengthAdjust="spacingAndGlyphs">0.060674</text>
<text x="1420.5" y="630" font-size="9.8" fill="#000" stroke="#000" stroke-width="0.15" textLength="18" lengthAdjust="spacingAndGlyphs">0.00</text>
<text x="1420.6" y="664" font-size="9.8" fill="#000" stroke="#000" stroke-width="0.15" textLength="42" lengthAdjust="spacingAndGlyphs">-0.040152</text>
<text x="1420.6" y="680" font-size="9.8" fill="#000" stroke="#000" stroke-width="0.15" textLength="15.3" lengthAdjust="spacingAndGlyphs">100</text>
<text x="1419.5" y="713" font-size="9.8" fill="#000" stroke="#000" stroke-width="0.15" textLength="10.5" lengthAdjust="spacingAndGlyphs">70</text>
<text x="1419.5" y="764" font-size="9.8" fill="#000" stroke="#000" stroke-width="0.15" textLength="10.5" lengthAdjust="spacingAndGlyphs">30</text>
<text x="1420.5" y="796" font-size="9.8" fill="#000" stroke="#000" stroke-width="0.15" textLength="5.2" lengthAdjust="spacingAndGlyphs">0</text>
<g class="c">
<rect x="1419" y="87" width="40" height="11" fill="#000"/>
<rect x="1419" y="133" width="40" height="11" fill="#ff0000"/>
<rect x="1419" y="228" width="40" height="11" fill="#00ff00"/>
<rect x="1419" y="323" width="40" height="11" fill="#0000ff"/>
<rect x="1419" y="399" width="40" height="11" fill="#0000ff"/>
<rect x="1419" y="458" width="40" height="11" fill="#0000ff"/>
</g>
<text x="1422.5" y="96" font-size="9.8" fill="#fff" stroke="#fff" stroke-width="0.15" textLength="33.3" lengthAdjust="spacingAndGlyphs">7.14996</text>
<text x="1422.5" y="142" font-size="9.8" fill="#fff" stroke="#fff" stroke-width="0.15" textLength="33.3" lengthAdjust="spacingAndGlyphs">7.10029</text>
<text x="1422.5" y="237" font-size="9.8" fill="#fff" stroke="#fff" stroke-width="0.15" textLength="33.3" lengthAdjust="spacingAndGlyphs">7.00048</text>
<text x="1422.5" y="332" font-size="9.8" fill="#fff" stroke="#fff" stroke-width="0.15" textLength="33.3" lengthAdjust="spacingAndGlyphs">6.90100</text>
<text x="1422.5" y="408" font-size="9.8" fill="#fff" stroke="#fff" stroke-width="0.15" textLength="33.3" lengthAdjust="spacingAndGlyphs">6.82103</text>
<text x="1422.5" y="467" font-size="9.8" fill="#fff" stroke="#fff" stroke-width="0.15" textLength="33.3" lengthAdjust="spacingAndGlyphs">6.75804</text>
<text x="1" y="812" font-size="9.8" fill="#000" stroke="#000" stroke-width="0.15" textLength="50" lengthAdjust="spacingAndGlyphs">22 Jan 2019</text>
<text x="65" y="812" font-size="9.8" fill="#000" stroke="#000" stroke-width="0.15" textLength="46" lengthAdjust="spacingAndGlyphs">1 Feb 2019</text>
<text x="129" y="812" font-size="9.8" fill="#000" stroke="#000" stroke-width="0.15" textLength="51" lengthAdjust="spacingAndGlyphs">13 Feb 2019</text>
<text x="193" y="812" font-size="9.8" fill="#000" stroke="#000" stroke-width="0.15" textLength="51.5" lengthAdjust="spacingAndGlyphs">25 Feb 2019</text>
<text x="257" y="812" font-size="9.8" fill="#000" stroke="#000" stroke-width="0.15" textLength="47" lengthAdjust="spacingAndGlyphs">7 Mar 2019</text>
<text x="321" y="812" font-size="9.8" fill="#000" stroke="#000" stroke-width="0.15" textLength="51.5" lengthAdjust="spacingAndGlyphs">19 Mar 2019</text>
<text x="385" y="812" font-size="9.8" fill="#000" stroke="#000" stroke-width="0.15" textLength="52" lengthAdjust="spacingAndGlyphs">29 Mar 2019</text>
<text x="449" y="812" font-size="9.8" fill="#000" stroke="#000" stroke-width="0.15" textLength="51" lengthAdjust="spacingAndGlyphs">10 Apr 2019</text>
<text x="513" y="812" font-size="9.8" fill="#000" stroke="#000" stroke-width="0.15" textLength="51" lengthAdjust="spacingAndGlyphs">23 Apr 2019</text>
<text x="577" y="812" font-size="9.8" fill="#000" stroke="#000" stroke-width="0.15" textLength="50" lengthAdjust="spacingAndGlyphs">3 May 2019</text>
<text x="641" y="812" font-size="9.8" fill="#000" stroke="#000" stroke-width="0.15" textLength="55" lengthAdjust="spacingAndGlyphs">15 May 2019</text>
<text x="705" y="812" font-size="9.8" fill="#000" stroke="#000" stroke-width="0.15" textLength="55" lengthAdjust="spacingAndGlyphs">27 May 2019</text>
<text x="769" y="812" font-size="9.8" fill="#000" stroke="#000" stroke-width="0.15" textLength="45" lengthAdjust="spacingAndGlyphs">6 Jun 2019</text>
<text x="833" y="812" font-size="9.8" fill="#000" stroke="#000" stroke-width="0.15" textLength="50" lengthAdjust="spacingAndGlyphs">18 Jun 2019</text>
<text x="897" y="812" font-size="9.8" fill="#000" stroke="#000" stroke-width="0.15" textLength="50" lengthAdjust="spacingAndGlyphs">28 Jun 2019</text>
<text x="961" y="812" font-size="9.8" fill="#000" stroke="#000" stroke-width="0.15" textLength="47" lengthAdjust="spacingAndGlyphs">10 Jul 2019</text>
<text x="1025" y="812" font-size="9.8" fill="#000" stroke="#000" stroke-width="0.15" textLength="47" lengthAdjust="spacingAndGlyphs">22 Jul 2019</text>
<text x="1089" y="812" font-size="9.8" fill="#000" stroke="#000" stroke-width="0.15" textLength="48" lengthAdjust="spacingAndGlyphs">1 Aug 2019</text>
<text x="1153" y="812" font-size="9.8" fill="#000" stroke="#000" stroke-width="0.15" textLength="52.5" lengthAdjust="spacingAndGlyphs">13 Aug 2019</text>
<text x="1217" y="812" font-size="9.8" fill="#000" stroke="#000" stroke-width="0.15" textLength="52.5" lengthAdjust="spacingAndGlyphs">23 Aug 2019</text>
<text x="1281" y="812" font-size="9.8" fill="#000" stroke="#000" stroke-width="0.15" textLength="47" lengthAdjust="spacingAndGlyphs">4 Sep 2019</text>
<text x="6" y="577" font-size="9.8" fill="#000" stroke="#000" stroke-width="0.15" textLength="147.5" lengthAdjust="spacingAndGlyphs">MACD(12,26,9) 0.045606 0.052786</text>
<text x="6" y="682" font-size="9.8" fill="#000" stroke="#000" stroke-width="0.15" textLength="67.7" lengthAdjust="spacingAndGlyphs">RSI(14) 61.3612</text>
<polygon points="5,34 12.5,34 8.7,30" fill="#000"/>
<text x="18" y="35" font-size="9.8" fill="#000" stroke="#000" stroke-width="0.15" textLength="67.7" lengthAdjust="spacingAndGlyphs">USDCNH-,Daily</text>
<text x="92" y="35" font-size="9.8" fill="#000" stroke="#000" stroke-width="0.15" textLength="141" lengthAdjust="spacingAndGlyphs">7.13857 7.15034 7.13567 7.14996</text>
<text x="5" y="11" font-size="9.6" fill="#3c3c3c" stroke="#3c3c3c" stroke-width="0.15" textLength="12" lengthAdjust="spacingAndGlyphs">H4</text>
<text x="34" y="11" font-size="9.6" fill="#3c3c3c" stroke="#3c3c3c" stroke-width="0.15" textLength="11.5" lengthAdjust="spacingAndGlyphs">D1</text>
<text x="61" y="11" font-size="9.6" fill="#3c3c3c" stroke="#3c3c3c" stroke-width="0.15" textLength="14" lengthAdjust="spacingAndGlyphs">W1</text>
<text x="88" y="11" font-size="9.6" fill="#3c3c3c" stroke="#3c3c3c" stroke-width="0.15" textLength="14" lengthAdjust="spacingAndGlyphs">MN</text>
<g class="c">
<rect x="5" y="43" width="52" height="25" fill="url(#gs)"/>
<rect x="172" y="43" width="52" height="25" fill="url(#gs)"/>
<rect x="5" y="67" width="109" height="40" fill="url(#gp)"/>
<rect x="116" y="67" width="108" height="40" fill="url(#gp)"/>
<rect x="114" y="67" width="2" height="40" fill="#fff"/>
<rect x="9" y="66" width="44" height="1" fill="#a81616"/>
<rect x="9" y="67" width="44" height="1" fill="#f47878"/>
<rect x="176" y="66" width="44" height="1" fill="#a81616"/>
<rect x="176" y="67" width="44" height="1" fill="#f47878"/>
<rect x="3" y="92" width="2" height="1" fill="#fff"/>
<rect x="224" y="92" width="2" height="1" fill="#fff"/>
<rect x="5" y="43" width="52" height="1" fill="#c02020" fill-opacity="0.55"/>
<rect x="172" y="43" width="52" height="1" fill="#c02020" fill-opacity="0.55"/>
<rect x="5" y="43" width="1" height="64" fill="#c02020" fill-opacity="0.55"/>
<rect x="223" y="43" width="1" height="64" fill="#c02020" fill-opacity="0.55"/>
<rect x="56" y="43" width="1" height="24" fill="#c02020" fill-opacity="0.55"/>
<rect x="172" y="43" width="1" height="24" fill="#c02020" fill-opacity="0.55"/>
<rect x="113" y="67" width="1" height="40" fill="#c02020" fill-opacity="0.55"/>
<rect x="116" y="67" width="1" height="40" fill="#c02020" fill-opacity="0.55"/>
<rect x="5" y="106" width="109" height="1" fill="#9a0000"/>
<rect x="116" y="106" width="108" height="1" fill="#9a0000"/>
<rect x="59" y="43" width="112" height="22" fill="#b4b4b4"/>
<rect x="60" y="44" width="110" height="20" fill="#fff"/>
<rect x="60" y="44" width="20" height="20" fill="url(#gb)"/>
<rect x="80" y="44" width="1" height="20" fill="#b4b4b4"/>
<rect x="149" y="44" width="21" height="20" fill="url(#gb)"/>
<rect x="149" y="44" width="1" height="20" fill="#b4b4b4"/>
</g>
<polygon points="67,52 72.4,52 69.7,55.2" fill="#4a5cc4"/>
<polygon points="155.6,55.2 161,55.2 158.3,52" fill="#4a5cc4"/>
<g class="c">
</g>
<text x="17" y="59" font-size="12" fill="#ffecec" textLength="26" lengthAdjust="spacingAndGlyphs">SELL</text>
<text x="185.5" y="59" font-size="12" fill="#ffecec" textLength="24" lengthAdjust="spacingAndGlyphs">BUY</text>
<text x="145" y="58" font-size="13" fill="#000" text-anchor="end">1.00</text>
<text x="24.5" y="98" font-size="12" fill="#fff" textLength="25" lengthAdjust="spacingAndGlyphs" font-weight="bold">7.14</text>
<text x="53.5" y="98.5" font-size="35.5" fill="#fff" textLength="33.3" lengthAdjust="spacingAndGlyphs">99</text>
<text x="92" y="81.5" font-size="11.5" fill="#fff" font-weight="bold">6</text>
<text x="134.8" y="98" font-size="12" fill="#fff" textLength="25" lengthAdjust="spacingAndGlyphs" font-weight="bold">7.15</text>
<text x="164.5" y="98.5" font-size="35.5" fill="#fff" textLength="33.3" lengthAdjust="spacingAndGlyphs">24</text>
<text x="203" y="81.5" font-size="11.5" fill="#fff" font-weight="bold">7</text>
<g class="c">
<rect x="0" y="820" width="1459" height="1" fill="#e4e4e4"/>
<rect x="0" y="821" width="1459" height="1" fill="#fff"/>
<rect x="0" y="822" width="1459" height="1" fill="#000"/>
<rect x="0" y="823" width="1459" height="1" fill="#fff"/>
<rect x="0" y="824" width="1459" height="18" fill="#f0f0f0"/>
<rect x="0" y="842" width="1459" height="1" fill="#fff"/>
<rect x="0" y="843" width="1459" height="3" fill="#f0f0f0"/>
<rect x="0" y="846" width="1459" height="1" fill="#a8a8a8"/>
<rect x="0" y="847" width="1459" height="1" fill="#fff"/>
<rect x="434" y="823" width="1" height="19" fill="#fff"/>
<rect x="436" y="841" width="112" height="1" fill="#dcdcdc"/>
<rect x="435" y="822" width="112" height="19" fill="#000"/>
<rect x="436" y="822" width="110" height="18" fill="#fff"/>
<rect x="111" y="825" width="1" height="14" fill="#6e6e6e"/>
<rect x="219" y="825" width="1" height="14" fill="#6e6e6e"/>
<rect x="327" y="825" width="1" height="14" fill="#6e6e6e"/>
<rect x="667" y="825" width="1" height="14" fill="#6e6e6e"/>
<rect x="791" y="825" width="1" height="14" fill="#6e6e6e"/>
<rect x="887" y="825" width="1" height="14" fill="#6e6e6e"/>
<rect x="967" y="825" width="1" height="14" fill="#6e6e6e"/>
<rect x="1071" y="825" width="1" height="14" fill="#6e6e6e"/>
</g>
<polygon points="1432.5,831 1436.4,827.4 1436.4,834.6" fill="#8a8a8a"/>
<polygon points="1455.6,831 1451.7,827.4 1451.7,834.6" fill="#8a8a8a"/>
<g class="c">
</g>
<text x="14.5" y="837" font-size="12.3" fill="#6d6d6d" textLength="85" lengthAdjust="spacingAndGlyphs">EURUSD-,Daily</text>
<text x="120.5" y="837" font-size="12.3" fill="#6d6d6d" textLength="87.5" lengthAdjust="spacingAndGlyphs">AUDUSD-,Daily</text>
<text x="231.5" y="837" font-size="12.3" fill="#6d6d6d" textLength="83.5" lengthAdjust="spacingAndGlyphs">USDCHF-,Daily</text>
<text x="338.5" y="837" font-size="12.3" fill="#6d6d6d" textLength="85.5" lengthAdjust="spacingAndGlyphs">USDCAD-,Daily</text>
<text x="558.5" y="837" font-size="12.3" fill="#6d6d6d" textLength="96.5" lengthAdjust="spacingAndGlyphs">EURCHF-,Weekly</text>
<text x="679" y="837" font-size="12.3" fill="#6d6d6d" textLength="100.5" lengthAdjust="spacingAndGlyphs">XAUUSD-,Weekly</text>
<text x="802.5" y="837" font-size="12.3" fill="#6d6d6d" textLength="72" lengthAdjust="spacingAndGlyphs">GBPUSD-,H1</text>
<text x="898.5" y="837" font-size="12.3" fill="#6d6d6d" textLength="56.5" lengthAdjust="spacingAndGlyphs">UKOil-,H1</text>
<text x="977" y="837" font-size="12.3" fill="#6d6d6d" textLength="83" lengthAdjust="spacingAndGlyphs">USDX-,Weekly</text>
<text x="447.5" y="837" font-size="12.3" fill="#000" textLength="87" lengthAdjust="spacingAndGlyphs">USDCNH-,Daily</text>
</svg></body></html>
